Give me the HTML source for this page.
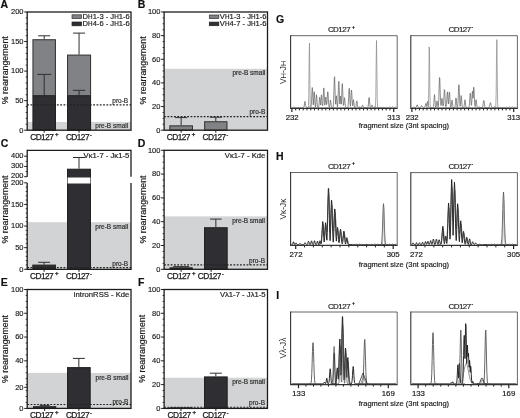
<!DOCTYPE html>
<html lang="en">
<head>
<meta charset="utf-8">
<title>Figure</title>
<style>
html,body{margin:0;padding:0;background:#ffffff;}
body{width:520px;height:418px;overflow:hidden;}
svg{display:block;font-family:"Liberation Sans",sans-serif;}
</style>
</head>
<body>
<svg width="520" height="418" viewBox="0 0 520 418">
<rect x="0" y="0" width="520" height="418" fill="#ffffff"/>
<rect x="27.2" y="121.93" width="103.8" height="8.27" fill="#d1d3d4"/>
<line x1="44.2" y1="35.8" x2="44.2" y2="39.19" stroke="#2f2e32" stroke-width="1.0" />
<line x1="38.2" y1="35.8" x2="50.2" y2="35.8" stroke="#2f2e32" stroke-width="1.0" />
<rect x="32.95" y="39.74" width="22.5" height="55.83" fill="#808285" stroke="#3a3a3a" stroke-width="1.1"/>
<rect x="32.95" y="96.12" width="22.5" height="34.08" fill="#2f2e32" stroke="#222" stroke-width="1.1"/>
<line x1="44.2" y1="74.4" x2="44.2" y2="95.57" stroke="#2f2e32" stroke-width="1.0" />
<line x1="37.2" y1="74.4" x2="51.2" y2="74.4" stroke="#2f2e32" stroke-width="1.0" />
<line x1="44.2" y1="130.2" x2="44.2" y2="132.7" stroke="#1c1c1c" stroke-width="1.0" />
<line x1="79.05" y1="33.1" x2="79.05" y2="54.55" stroke="#2f2e32" stroke-width="1.0" />
<line x1="73.05" y1="33.1" x2="85.05" y2="33.1" stroke="#2f2e32" stroke-width="1.0" />
<rect x="67.55" y="55.1" width="23" height="40.47" fill="#808285" stroke="#3a3a3a" stroke-width="1.1"/>
<rect x="67.55" y="96.12" width="23" height="34.08" fill="#2f2e32" stroke="#222" stroke-width="1.1"/>
<line x1="79.05" y1="90.3" x2="79.05" y2="95.57" stroke="#2f2e32" stroke-width="1.0" />
<line x1="72.85" y1="90.3" x2="85.25" y2="90.3" stroke="#2f2e32" stroke-width="1.0" />
<line x1="79.05" y1="130.2" x2="79.05" y2="132.7" stroke="#1c1c1c" stroke-width="1.0" />
<line x1="27.2" y1="104.8" x2="131" y2="104.8" stroke="#222" stroke-width="1.15" stroke-dasharray="1.8 1.5"/>
<rect x="27.2" y="12" width="103.8" height="118.2" fill="none" stroke="#1c1c1c" stroke-width="1.3"/>
<line x1="24.2" y1="130.2" x2="27.2" y2="130.2" stroke="#1c1c1c" stroke-width="1.0" />
<line x1="25.7" y1="124.29" x2="27.2" y2="124.29" stroke="#1c1c1c" stroke-width="0.9" />
<line x1="25.7" y1="118.38" x2="27.2" y2="118.38" stroke="#1c1c1c" stroke-width="0.9" />
<line x1="25.7" y1="112.47" x2="27.2" y2="112.47" stroke="#1c1c1c" stroke-width="0.9" />
<line x1="25.7" y1="106.56" x2="27.2" y2="106.56" stroke="#1c1c1c" stroke-width="0.9" />
<line x1="24.2" y1="100.65" x2="27.2" y2="100.65" stroke="#1c1c1c" stroke-width="1.0" />
<line x1="25.7" y1="94.74" x2="27.2" y2="94.74" stroke="#1c1c1c" stroke-width="0.9" />
<line x1="25.7" y1="88.83" x2="27.2" y2="88.83" stroke="#1c1c1c" stroke-width="0.9" />
<line x1="25.7" y1="82.92" x2="27.2" y2="82.92" stroke="#1c1c1c" stroke-width="0.9" />
<line x1="25.7" y1="77.01" x2="27.2" y2="77.01" stroke="#1c1c1c" stroke-width="0.9" />
<line x1="24.2" y1="71.1" x2="27.2" y2="71.1" stroke="#1c1c1c" stroke-width="1.0" />
<line x1="25.7" y1="65.19" x2="27.2" y2="65.19" stroke="#1c1c1c" stroke-width="0.9" />
<line x1="25.7" y1="59.28" x2="27.2" y2="59.28" stroke="#1c1c1c" stroke-width="0.9" />
<line x1="25.7" y1="53.37" x2="27.2" y2="53.37" stroke="#1c1c1c" stroke-width="0.9" />
<line x1="25.7" y1="47.46" x2="27.2" y2="47.46" stroke="#1c1c1c" stroke-width="0.9" />
<line x1="24.2" y1="41.55" x2="27.2" y2="41.55" stroke="#1c1c1c" stroke-width="1.0" />
<line x1="25.7" y1="35.64" x2="27.2" y2="35.64" stroke="#1c1c1c" stroke-width="0.9" />
<line x1="25.7" y1="29.73" x2="27.2" y2="29.73" stroke="#1c1c1c" stroke-width="0.9" />
<line x1="25.7" y1="23.82" x2="27.2" y2="23.82" stroke="#1c1c1c" stroke-width="0.9" />
<line x1="25.7" y1="17.91" x2="27.2" y2="17.91" stroke="#1c1c1c" stroke-width="0.9" />
<line x1="24.2" y1="12" x2="27.2" y2="12" stroke="#1c1c1c" stroke-width="1.0" />
<text x="23.5" y="132.5" font-size="7.5" text-anchor="end" fill="#1a1a1a" font-weight="normal" stroke="#1a1a1a" stroke-width="0.15">0</text>
<text x="23.5" y="102.95" font-size="7.5" text-anchor="end" fill="#1a1a1a" font-weight="normal" stroke="#1a1a1a" stroke-width="0.15">50</text>
<text x="23.5" y="73.4" font-size="7.5" text-anchor="end" fill="#1a1a1a" font-weight="normal" stroke="#1a1a1a" stroke-width="0.15">100</text>
<text x="23.5" y="43.85" font-size="7.5" text-anchor="end" fill="#1a1a1a" font-weight="normal" stroke="#1a1a1a" stroke-width="0.15">150</text>
<text x="23.5" y="14.3" font-size="7.5" text-anchor="end" fill="#1a1a1a" font-weight="normal" stroke="#1a1a1a" stroke-width="0.15">200</text>
<text transform="translate(8,70.2) rotate(-90)" font-size="8.8" text-anchor="middle" fill="#1a1a1a" stroke="#1a1a1a" stroke-width="0.18">% rearrangement</text>
<text x="0.5" y="8.4" font-size="10.5" text-anchor="start" fill="#111" font-weight="bold" stroke="#111" stroke-width="0.18" >A</text>
<text x="30.2" y="140.1" font-size="8.3" fill="#1a1a1a" stroke="#1a1a1a" stroke-width="0.25"><tspan letter-spacing="-0.55">CD127</tspan><tspan dx="1.8" dy="-3.7" font-size="6" font-weight="bold">+</tspan></text>
<text x="65.9" y="140.1" font-size="8.3" fill="#1a1a1a" stroke="#1a1a1a" stroke-width="0.25"><tspan letter-spacing="-0.55">CD127</tspan><tspan dx="1" dy="-3" font-size="5" font-weight="bold">-</tspan></text>
<text x="128.2" y="102.9" font-size="6.5" text-anchor="end" fill="#2c2c2c" font-weight="normal" stroke="#2c2c2c" stroke-width="0.18" >pro-B</text>
<text x="128.2" y="128.3" font-size="6.5" text-anchor="end" fill="#2c2c2c" font-weight="normal" stroke="#2c2c2c" stroke-width="0.18" >pre-B small</text>
<rect x="72" y="14.8" width="9.5" height="3.8" fill="#808285" stroke="#333" stroke-width="0.7"/>
<rect x="72" y="22" width="9.5" height="3.8" fill="#2f2e32" stroke="#222" stroke-width="0.7"/>
<text x="82.6" y="19.3" font-size="7.6" text-anchor="start" fill="#1a1a1a" font-weight="normal" stroke="#1a1a1a" stroke-width="0.18" >D<tspan font-size="6.3">H</tspan>1-3 - J<tspan font-size="6.3">H</tspan>1-6</text>
<text x="82.6" y="26.3" font-size="7.6" text-anchor="start" fill="#1a1a1a" font-weight="normal" stroke="#1a1a1a" stroke-width="0.18" >D<tspan font-size="6.3">H</tspan>4-6 - J<tspan font-size="6.3">H</tspan>1-6</text>
<rect x="164.1" y="68.8" width="103.4" height="61.4" fill="#d1d3d4"/>
<line x1="181.15" y1="117.6" x2="181.15" y2="125.3" stroke="#2f2e32" stroke-width="1.0" />
<line x1="175.15" y1="117.6" x2="187.15" y2="117.6" stroke="#2f2e32" stroke-width="1.0" />
<rect x="169.85" y="125.85" width="22.6" height="4.35" fill="#808285" stroke="#3a3a3a" stroke-width="1.1"/>
<line x1="181.15" y1="130.2" x2="181.15" y2="132.7" stroke="#1c1c1c" stroke-width="1.0" />
<line x1="215.8" y1="117.2" x2="215.8" y2="121.2" stroke="#2f2e32" stroke-width="1.0" />
<line x1="209.8" y1="117.2" x2="221.8" y2="117.2" stroke="#2f2e32" stroke-width="1.0" />
<rect x="204.65" y="121.75" width="22.3" height="8.45" fill="#808285" stroke="#3a3a3a" stroke-width="1.1"/>
<line x1="215.8" y1="130.2" x2="215.8" y2="132.7" stroke="#1c1c1c" stroke-width="1.0" />
<line x1="164.1" y1="116.6" x2="267.5" y2="116.6" stroke="#222" stroke-width="1.15" stroke-dasharray="1.8 1.5"/>
<rect x="164.1" y="12" width="103.4" height="118.2" fill="none" stroke="#1c1c1c" stroke-width="1.3"/>
<line x1="161.1" y1="130.2" x2="164.1" y2="130.2" stroke="#1c1c1c" stroke-width="1.0" />
<line x1="162.6" y1="124.29" x2="164.1" y2="124.29" stroke="#1c1c1c" stroke-width="0.9" />
<line x1="162.6" y1="118.38" x2="164.1" y2="118.38" stroke="#1c1c1c" stroke-width="0.9" />
<line x1="162.6" y1="112.47" x2="164.1" y2="112.47" stroke="#1c1c1c" stroke-width="0.9" />
<line x1="161.1" y1="106.56" x2="164.1" y2="106.56" stroke="#1c1c1c" stroke-width="1.0" />
<line x1="162.6" y1="100.65" x2="164.1" y2="100.65" stroke="#1c1c1c" stroke-width="0.9" />
<line x1="162.6" y1="94.74" x2="164.1" y2="94.74" stroke="#1c1c1c" stroke-width="0.9" />
<line x1="162.6" y1="88.83" x2="164.1" y2="88.83" stroke="#1c1c1c" stroke-width="0.9" />
<line x1="161.1" y1="82.92" x2="164.1" y2="82.92" stroke="#1c1c1c" stroke-width="1.0" />
<line x1="162.6" y1="77.01" x2="164.1" y2="77.01" stroke="#1c1c1c" stroke-width="0.9" />
<line x1="162.6" y1="71.1" x2="164.1" y2="71.1" stroke="#1c1c1c" stroke-width="0.9" />
<line x1="162.6" y1="65.19" x2="164.1" y2="65.19" stroke="#1c1c1c" stroke-width="0.9" />
<line x1="161.1" y1="59.28" x2="164.1" y2="59.28" stroke="#1c1c1c" stroke-width="1.0" />
<line x1="162.6" y1="53.37" x2="164.1" y2="53.37" stroke="#1c1c1c" stroke-width="0.9" />
<line x1="162.6" y1="47.46" x2="164.1" y2="47.46" stroke="#1c1c1c" stroke-width="0.9" />
<line x1="162.6" y1="41.55" x2="164.1" y2="41.55" stroke="#1c1c1c" stroke-width="0.9" />
<line x1="161.1" y1="35.64" x2="164.1" y2="35.64" stroke="#1c1c1c" stroke-width="1.0" />
<line x1="162.6" y1="29.73" x2="164.1" y2="29.73" stroke="#1c1c1c" stroke-width="0.9" />
<line x1="162.6" y1="23.82" x2="164.1" y2="23.82" stroke="#1c1c1c" stroke-width="0.9" />
<line x1="162.6" y1="17.91" x2="164.1" y2="17.91" stroke="#1c1c1c" stroke-width="0.9" />
<line x1="161.1" y1="12" x2="164.1" y2="12" stroke="#1c1c1c" stroke-width="1.0" />
<text x="160.4" y="132.5" font-size="7.5" text-anchor="end" fill="#1a1a1a" font-weight="normal" stroke="#1a1a1a" stroke-width="0.15">0</text>
<text x="160.4" y="108.86" font-size="7.5" text-anchor="end" fill="#1a1a1a" font-weight="normal" stroke="#1a1a1a" stroke-width="0.15">20</text>
<text x="160.4" y="85.22" font-size="7.5" text-anchor="end" fill="#1a1a1a" font-weight="normal" stroke="#1a1a1a" stroke-width="0.15">40</text>
<text x="160.4" y="61.58" font-size="7.5" text-anchor="end" fill="#1a1a1a" font-weight="normal" stroke="#1a1a1a" stroke-width="0.15">60</text>
<text x="160.4" y="37.94" font-size="7.5" text-anchor="end" fill="#1a1a1a" font-weight="normal" stroke="#1a1a1a" stroke-width="0.15">80</text>
<text x="160.4" y="14.3" font-size="7.5" text-anchor="end" fill="#1a1a1a" font-weight="normal" stroke="#1a1a1a" stroke-width="0.15">100</text>
<text transform="translate(145.5,70.4) rotate(-90)" font-size="8.8" text-anchor="middle" fill="#1a1a1a" stroke="#1a1a1a" stroke-width="0.18">% rearrangement</text>
<text x="137.7" y="7.8" font-size="10.5" text-anchor="start" fill="#111" font-weight="bold" stroke="#111" stroke-width="0.18" >B</text>
<text x="166.8" y="140.1" font-size="8.3" fill="#1a1a1a" stroke="#1a1a1a" stroke-width="0.25"><tspan letter-spacing="-0.55">CD127</tspan><tspan dx="1.8" dy="-3.7" font-size="6" font-weight="bold">+</tspan></text>
<text x="202.5" y="140.1" font-size="8.3" fill="#1a1a1a" stroke="#1a1a1a" stroke-width="0.25"><tspan letter-spacing="-0.55">CD127</tspan><tspan dx="1" dy="-3" font-size="5" font-weight="bold">-</tspan></text>
<text x="265.3" y="75.3" font-size="6.5" text-anchor="end" fill="#2c2c2c" font-weight="normal" stroke="#2c2c2c" stroke-width="0.18" >pre-B small</text>
<text x="265.3" y="114.4" font-size="6.5" text-anchor="end" fill="#2c2c2c" font-weight="normal" stroke="#2c2c2c" stroke-width="0.18" >pro-B</text>
<rect x="209.3" y="15" width="9.5" height="3.6" fill="#808285" stroke="#333" stroke-width="0.7"/>
<rect x="209.3" y="22.1" width="9.5" height="3.6" fill="#2f2e32" stroke="#222" stroke-width="0.7"/>
<text x="219.8" y="19.3" font-size="7.6" text-anchor="start" fill="#1a1a1a" font-weight="normal" stroke="#1a1a1a" stroke-width="0.18" >V<tspan font-size="6.3">H</tspan>1-3 - J<tspan font-size="6.3">H</tspan>1-6</text>
<text x="219.8" y="26.3" font-size="7.6" text-anchor="start" fill="#1a1a1a" font-weight="normal" stroke="#1a1a1a" stroke-width="0.18" >V<tspan font-size="6.3">H</tspan>4-7 - J<tspan font-size="6.3">H</tspan>1-6</text>
<rect x="27.2" y="222.2" width="103.8" height="47.1" fill="#d1d3d4"/>
<line x1="44.1" y1="262.3" x2="44.1" y2="264.6" stroke="#2f2e32" stroke-width="1.0" />
<line x1="38.1" y1="262.3" x2="50.1" y2="262.3" stroke="#2f2e32" stroke-width="1.0" />
<rect x="32.85" y="265.15" width="22.5" height="4.15" fill="#2f2e32" stroke="#222" stroke-width="1.1"/>
<line x1="44.1" y1="269.3" x2="44.1" y2="271.8" stroke="#1c1c1c" stroke-width="1.0" />
<line x1="79" y1="157.5" x2="79" y2="168.7" stroke="#2f2e32" stroke-width="1.0" />
<line x1="73" y1="157.5" x2="85" y2="157.5" stroke="#2f2e32" stroke-width="1.0" />
<rect x="67.55" y="169.25" width="22.9" height="100.05" fill="#2f2e32" stroke="#222" stroke-width="1.1"/>
<rect x="67.6" y="177.5" width="22.8" height="6" fill="#ffffff"/>
<line x1="79" y1="269.3" x2="79" y2="271.8" stroke="#1c1c1c" stroke-width="1.0" />
<line x1="27.2" y1="267.6" x2="131" y2="267.6" stroke="#222" stroke-width="1.15" stroke-dasharray="1.8 1.5"/>
<line x1="27.2" y1="150.3" x2="131" y2="150.3" stroke="#1c1c1c" stroke-width="1.3" />
<line x1="26.55" y1="269.3" x2="131.65" y2="269.3" stroke="#1c1c1c" stroke-width="1.3" />
<line x1="27.2" y1="149.65" x2="27.2" y2="176.7" stroke="#1c1c1c" stroke-width="1.3" />
<line x1="27.2" y1="183" x2="27.2" y2="269.3" stroke="#1c1c1c" stroke-width="1.3" />
<line x1="131" y1="149.65" x2="131" y2="176.7" stroke="#1c1c1c" stroke-width="1.3" />
<line x1="131" y1="183" x2="131" y2="269.3" stroke="#1c1c1c" stroke-width="1.3" />
<line x1="24.2" y1="269.3" x2="27.2" y2="269.3" stroke="#1c1c1c" stroke-width="1.0" />
<line x1="25.7" y1="264.98" x2="27.2" y2="264.98" stroke="#1c1c1c" stroke-width="0.9" />
<line x1="25.7" y1="260.65" x2="27.2" y2="260.65" stroke="#1c1c1c" stroke-width="0.9" />
<line x1="25.7" y1="256.32" x2="27.2" y2="256.32" stroke="#1c1c1c" stroke-width="0.9" />
<line x1="25.7" y1="252" x2="27.2" y2="252" stroke="#1c1c1c" stroke-width="0.9" />
<line x1="24.2" y1="247.68" x2="27.2" y2="247.68" stroke="#1c1c1c" stroke-width="1.0" />
<line x1="25.7" y1="243.35" x2="27.2" y2="243.35" stroke="#1c1c1c" stroke-width="0.9" />
<line x1="25.7" y1="239.03" x2="27.2" y2="239.03" stroke="#1c1c1c" stroke-width="0.9" />
<line x1="25.7" y1="234.7" x2="27.2" y2="234.7" stroke="#1c1c1c" stroke-width="0.9" />
<line x1="25.7" y1="230.38" x2="27.2" y2="230.38" stroke="#1c1c1c" stroke-width="0.9" />
<line x1="24.2" y1="226.05" x2="27.2" y2="226.05" stroke="#1c1c1c" stroke-width="1.0" />
<line x1="25.7" y1="221.73" x2="27.2" y2="221.73" stroke="#1c1c1c" stroke-width="0.9" />
<line x1="25.7" y1="217.4" x2="27.2" y2="217.4" stroke="#1c1c1c" stroke-width="0.9" />
<line x1="25.7" y1="213.08" x2="27.2" y2="213.08" stroke="#1c1c1c" stroke-width="0.9" />
<line x1="25.7" y1="208.75" x2="27.2" y2="208.75" stroke="#1c1c1c" stroke-width="0.9" />
<line x1="24.2" y1="204.43" x2="27.2" y2="204.43" stroke="#1c1c1c" stroke-width="1.0" />
<line x1="25.7" y1="200.1" x2="27.2" y2="200.1" stroke="#1c1c1c" stroke-width="0.9" />
<line x1="25.7" y1="195.78" x2="27.2" y2="195.78" stroke="#1c1c1c" stroke-width="0.9" />
<line x1="25.7" y1="191.45" x2="27.2" y2="191.45" stroke="#1c1c1c" stroke-width="0.9" />
<line x1="25.7" y1="187.12" x2="27.2" y2="187.12" stroke="#1c1c1c" stroke-width="0.9" />
<line x1="24.2" y1="182.8" x2="27.2" y2="182.8" stroke="#1c1c1c" stroke-width="1.0" />
<text x="23.5" y="271.6" font-size="7.5" text-anchor="end" fill="#1a1a1a" font-weight="normal" stroke="#1a1a1a" stroke-width="0.15">0</text>
<text x="23.5" y="249.98" font-size="7.5" text-anchor="end" fill="#1a1a1a" font-weight="normal" stroke="#1a1a1a" stroke-width="0.15">50</text>
<text x="23.5" y="228.35" font-size="7.5" text-anchor="end" fill="#1a1a1a" font-weight="normal" stroke="#1a1a1a" stroke-width="0.15">100</text>
<text x="23.5" y="206.73" font-size="7.5" text-anchor="end" fill="#1a1a1a" font-weight="normal" stroke="#1a1a1a" stroke-width="0.15">150</text>
<text x="23.5" y="185.1" font-size="7.5" text-anchor="end" fill="#1a1a1a" font-weight="normal" stroke="#1a1a1a" stroke-width="0.15">200</text>
<line x1="24.2" y1="176.7" x2="27.2" y2="176.7" stroke="#1c1c1c" stroke-width="1.0" />
<text x="23.5" y="178.2" font-size="7.5" text-anchor="end" fill="#1a1a1a" font-weight="normal" stroke="#1a1a1a" stroke-width="0.15">200</text>
<line x1="24.2" y1="166.45" x2="27.2" y2="166.45" stroke="#1c1c1c" stroke-width="1.0" />
<text x="23.5" y="168.25" font-size="7.5" text-anchor="end" fill="#1a1a1a" font-weight="normal" stroke="#1a1a1a" stroke-width="0.15">300</text>
<line x1="24.2" y1="156.2" x2="27.2" y2="156.2" stroke="#1c1c1c" stroke-width="1.0" />
<text x="23.5" y="158" font-size="7.5" text-anchor="end" fill="#1a1a1a" font-weight="normal" stroke="#1a1a1a" stroke-width="0.15">400</text>
<line x1="25.7" y1="171.57" x2="27.2" y2="171.57" stroke="#1c1c1c" stroke-width="0.9" />
<line x1="25.7" y1="161.32" x2="27.2" y2="161.32" stroke="#1c1c1c" stroke-width="0.9" />
<text transform="translate(8,209.5) rotate(-90)" font-size="8.8" text-anchor="middle" fill="#1a1a1a" stroke="#1a1a1a" stroke-width="0.18">% rearrangement</text>
<text x="0.8" y="147.2" font-size="10.5" text-anchor="start" fill="#111" font-weight="bold" stroke="#111" stroke-width="0.18" >C</text>
<text x="30.1" y="279" font-size="8.3" fill="#1a1a1a" stroke="#1a1a1a" stroke-width="0.25"><tspan letter-spacing="-0.55">CD127</tspan><tspan dx="1.8" dy="-3.7" font-size="6" font-weight="bold">+</tspan></text>
<text x="66" y="279" font-size="8.3" fill="#1a1a1a" stroke="#1a1a1a" stroke-width="0.25"><tspan letter-spacing="-0.55">CD127</tspan><tspan dx="1" dy="-3" font-size="5" font-weight="bold">-</tspan></text>
<text x="128.2" y="228.6" font-size="6.5" text-anchor="end" fill="#2c2c2c" font-weight="normal" stroke="#2c2c2c" stroke-width="0.18" >pre-B small</text>
<text x="128.2" y="265.8" font-size="6.5" text-anchor="end" fill="#2c2c2c" font-weight="normal" stroke="#2c2c2c" stroke-width="0.18" >pro-B</text>
<text x="129.3" y="158" font-size="7.7" text-anchor="end" fill="#1a1a1a" font-weight="normal" stroke="#1a1a1a" stroke-width="0.18" >Vκ1-7 - Jκ1-5</text>
<rect x="164.1" y="216.4" width="103.4" height="52.9" fill="#d1d3d4"/>
<line x1="181.15" y1="266.6" x2="181.15" y2="267.3" stroke="#2f2e32" stroke-width="1.0" />
<line x1="173.15" y1="266.6" x2="189.15" y2="266.6" stroke="#2f2e32" stroke-width="1.0" />
<rect x="170.05" y="267.85" width="22.2" height="1.45" fill="#2f2e32" stroke="#222" stroke-width="1.1"/>
<line x1="181.15" y1="269.3" x2="181.15" y2="271.8" stroke="#1c1c1c" stroke-width="1.0" />
<line x1="215.85" y1="219.1" x2="215.85" y2="227.2" stroke="#2f2e32" stroke-width="1.0" />
<line x1="210.05" y1="219.1" x2="221.65" y2="219.1" stroke="#2f2e32" stroke-width="1.0" />
<rect x="204.55" y="227.75" width="22.6" height="41.55" fill="#2f2e32" stroke="#222" stroke-width="1.1"/>
<line x1="211.1" y1="269.3" x2="211.1" y2="271.8" stroke="#1c1c1c" stroke-width="1.0" />
<line x1="164.1" y1="264.8" x2="267.5" y2="264.8" stroke="#222" stroke-width="1.15" stroke-dasharray="1.8 1.5"/>
<rect x="164.1" y="150.3" width="103.4" height="119" fill="none" stroke="#1c1c1c" stroke-width="1.3"/>
<line x1="161.1" y1="269.3" x2="164.1" y2="269.3" stroke="#1c1c1c" stroke-width="1.0" />
<line x1="162.6" y1="263.35" x2="164.1" y2="263.35" stroke="#1c1c1c" stroke-width="0.9" />
<line x1="162.6" y1="257.4" x2="164.1" y2="257.4" stroke="#1c1c1c" stroke-width="0.9" />
<line x1="162.6" y1="251.45" x2="164.1" y2="251.45" stroke="#1c1c1c" stroke-width="0.9" />
<line x1="161.1" y1="245.5" x2="164.1" y2="245.5" stroke="#1c1c1c" stroke-width="1.0" />
<line x1="162.6" y1="239.55" x2="164.1" y2="239.55" stroke="#1c1c1c" stroke-width="0.9" />
<line x1="162.6" y1="233.6" x2="164.1" y2="233.6" stroke="#1c1c1c" stroke-width="0.9" />
<line x1="162.6" y1="227.65" x2="164.1" y2="227.65" stroke="#1c1c1c" stroke-width="0.9" />
<line x1="161.1" y1="221.7" x2="164.1" y2="221.7" stroke="#1c1c1c" stroke-width="1.0" />
<line x1="162.6" y1="215.75" x2="164.1" y2="215.75" stroke="#1c1c1c" stroke-width="0.9" />
<line x1="162.6" y1="209.8" x2="164.1" y2="209.8" stroke="#1c1c1c" stroke-width="0.9" />
<line x1="162.6" y1="203.85" x2="164.1" y2="203.85" stroke="#1c1c1c" stroke-width="0.9" />
<line x1="161.1" y1="197.9" x2="164.1" y2="197.9" stroke="#1c1c1c" stroke-width="1.0" />
<line x1="162.6" y1="191.95" x2="164.1" y2="191.95" stroke="#1c1c1c" stroke-width="0.9" />
<line x1="162.6" y1="186" x2="164.1" y2="186" stroke="#1c1c1c" stroke-width="0.9" />
<line x1="162.6" y1="180.05" x2="164.1" y2="180.05" stroke="#1c1c1c" stroke-width="0.9" />
<line x1="161.1" y1="174.1" x2="164.1" y2="174.1" stroke="#1c1c1c" stroke-width="1.0" />
<line x1="162.6" y1="168.15" x2="164.1" y2="168.15" stroke="#1c1c1c" stroke-width="0.9" />
<line x1="162.6" y1="162.2" x2="164.1" y2="162.2" stroke="#1c1c1c" stroke-width="0.9" />
<line x1="162.6" y1="156.25" x2="164.1" y2="156.25" stroke="#1c1c1c" stroke-width="0.9" />
<line x1="161.1" y1="150.3" x2="164.1" y2="150.3" stroke="#1c1c1c" stroke-width="1.0" />
<text x="160.4" y="271.6" font-size="7.5" text-anchor="end" fill="#1a1a1a" font-weight="normal" stroke="#1a1a1a" stroke-width="0.15">0</text>
<text x="160.4" y="247.8" font-size="7.5" text-anchor="end" fill="#1a1a1a" font-weight="normal" stroke="#1a1a1a" stroke-width="0.15">20</text>
<text x="160.4" y="224" font-size="7.5" text-anchor="end" fill="#1a1a1a" font-weight="normal" stroke="#1a1a1a" stroke-width="0.15">40</text>
<text x="160.4" y="200.2" font-size="7.5" text-anchor="end" fill="#1a1a1a" font-weight="normal" stroke="#1a1a1a" stroke-width="0.15">60</text>
<text x="160.4" y="176.4" font-size="7.5" text-anchor="end" fill="#1a1a1a" font-weight="normal" stroke="#1a1a1a" stroke-width="0.15">80</text>
<text x="160.4" y="152.6" font-size="7.5" text-anchor="end" fill="#1a1a1a" font-weight="normal" stroke="#1a1a1a" stroke-width="0.15">100</text>
<text transform="translate(145.5,209.5) rotate(-90)" font-size="8.8" text-anchor="middle" fill="#1a1a1a" stroke="#1a1a1a" stroke-width="0.18">% rearrangement</text>
<text x="137.8" y="147" font-size="10.5" text-anchor="start" fill="#111" font-weight="bold" stroke="#111" stroke-width="0.18" >D</text>
<text x="167.1" y="279" font-size="8.3" fill="#1a1a1a" stroke="#1a1a1a" stroke-width="0.25"><tspan letter-spacing="-0.55">CD127</tspan><tspan dx="1.8" dy="-3.7" font-size="6" font-weight="bold">+</tspan></text>
<text x="197.8" y="279" font-size="8.3" fill="#1a1a1a" stroke="#1a1a1a" stroke-width="0.25"><tspan letter-spacing="-0.55">CD127</tspan><tspan dx="1" dy="-3" font-size="5" font-weight="bold">-</tspan></text>
<text x="265" y="222.6" font-size="6.5" text-anchor="end" fill="#2c2c2c" font-weight="normal" stroke="#2c2c2c" stroke-width="0.18" >pre-B small</text>
<text x="265" y="263.2" font-size="6.5" text-anchor="end" fill="#2c2c2c" font-weight="normal" stroke="#2c2c2c" stroke-width="0.18" >pro-B</text>
<text x="265.4" y="158" font-size="7.7" text-anchor="end" fill="#1a1a1a" font-weight="normal" stroke="#1a1a1a" stroke-width="0.18" >Vκ1-7 - Kde</text>
<rect x="27.2" y="372.9" width="103.8" height="35.5" fill="#d1d3d4"/>
<line x1="44.65" y1="405.4" x2="44.65" y2="406.2" stroke="#2f2e32" stroke-width="1.0" />
<line x1="39.65" y1="405.4" x2="49.65" y2="405.4" stroke="#2f2e32" stroke-width="1.0" />
<rect x="33.55" y="406.75" width="22.2" height="1.65" fill="#2f2e32" stroke="#222" stroke-width="1.1"/>
<line x1="44.65" y1="408.4" x2="44.65" y2="410.9" stroke="#1c1c1c" stroke-width="1.0" />
<line x1="78.85" y1="358.4" x2="78.85" y2="367.1" stroke="#2f2e32" stroke-width="1.0" />
<line x1="72.85" y1="358.4" x2="84.85" y2="358.4" stroke="#2f2e32" stroke-width="1.0" />
<rect x="67.55" y="367.65" width="22.6" height="40.75" fill="#2f2e32" stroke="#222" stroke-width="1.1"/>
<line x1="78.85" y1="408.4" x2="78.85" y2="410.9" stroke="#1c1c1c" stroke-width="1.0" />
<line x1="27.2" y1="404.5" x2="131" y2="404.5" stroke="#222" stroke-width="1.15" stroke-dasharray="1.8 1.5"/>
<rect x="27.2" y="289.5" width="103.8" height="118.9" fill="none" stroke="#1c1c1c" stroke-width="1.3"/>
<line x1="24.2" y1="408.4" x2="27.2" y2="408.4" stroke="#1c1c1c" stroke-width="1.0" />
<line x1="25.7" y1="402.45" x2="27.2" y2="402.45" stroke="#1c1c1c" stroke-width="0.9" />
<line x1="25.7" y1="396.51" x2="27.2" y2="396.51" stroke="#1c1c1c" stroke-width="0.9" />
<line x1="25.7" y1="390.56" x2="27.2" y2="390.56" stroke="#1c1c1c" stroke-width="0.9" />
<line x1="25.7" y1="384.62" x2="27.2" y2="384.62" stroke="#1c1c1c" stroke-width="0.9" />
<line x1="25.7" y1="378.67" x2="27.2" y2="378.67" stroke="#1c1c1c" stroke-width="0.9" />
<line x1="25.7" y1="372.73" x2="27.2" y2="372.73" stroke="#1c1c1c" stroke-width="0.9" />
<line x1="25.7" y1="366.78" x2="27.2" y2="366.78" stroke="#1c1c1c" stroke-width="0.9" />
<line x1="24.2" y1="360.84" x2="27.2" y2="360.84" stroke="#1c1c1c" stroke-width="1.0" />
<line x1="25.7" y1="354.89" x2="27.2" y2="354.89" stroke="#1c1c1c" stroke-width="0.9" />
<line x1="25.7" y1="348.95" x2="27.2" y2="348.95" stroke="#1c1c1c" stroke-width="0.9" />
<line x1="25.7" y1="343" x2="27.2" y2="343" stroke="#1c1c1c" stroke-width="0.9" />
<line x1="24.2" y1="337.06" x2="27.2" y2="337.06" stroke="#1c1c1c" stroke-width="1.0" />
<line x1="25.7" y1="331.12" x2="27.2" y2="331.12" stroke="#1c1c1c" stroke-width="0.9" />
<line x1="25.7" y1="325.17" x2="27.2" y2="325.17" stroke="#1c1c1c" stroke-width="0.9" />
<line x1="25.7" y1="319.23" x2="27.2" y2="319.23" stroke="#1c1c1c" stroke-width="0.9" />
<line x1="24.2" y1="313.28" x2="27.2" y2="313.28" stroke="#1c1c1c" stroke-width="1.0" />
<line x1="25.7" y1="307.33" x2="27.2" y2="307.33" stroke="#1c1c1c" stroke-width="0.9" />
<line x1="25.7" y1="301.39" x2="27.2" y2="301.39" stroke="#1c1c1c" stroke-width="0.9" />
<line x1="25.7" y1="295.44" x2="27.2" y2="295.44" stroke="#1c1c1c" stroke-width="0.9" />
<line x1="24.2" y1="289.5" x2="27.2" y2="289.5" stroke="#1c1c1c" stroke-width="1.0" />
<text x="23.5" y="410.7" font-size="7.5" text-anchor="end" fill="#1a1a1a" font-weight="normal" stroke="#1a1a1a" stroke-width="0.15">0</text>
<text x="23.5" y="363.14" font-size="7.5" text-anchor="end" fill="#1a1a1a" font-weight="normal" stroke="#1a1a1a" stroke-width="0.15">40</text>
<text x="23.5" y="339.36" font-size="7.5" text-anchor="end" fill="#1a1a1a" font-weight="normal" stroke="#1a1a1a" stroke-width="0.15">60</text>
<text x="23.5" y="315.58" font-size="7.5" text-anchor="end" fill="#1a1a1a" font-weight="normal" stroke="#1a1a1a" stroke-width="0.15">80</text>
<text x="23.5" y="291.8" font-size="7.5" text-anchor="end" fill="#1a1a1a" font-weight="normal" stroke="#1a1a1a" stroke-width="0.15">100</text>
<line x1="24.2" y1="387.3" x2="27.2" y2="387.3" stroke="#1c1c1c" stroke-width="1.0" />
<text x="23.5" y="389.6" font-size="7.5" text-anchor="end" fill="#1a1a1a" font-weight="normal" stroke="#1a1a1a" stroke-width="0.15">20</text>
<text transform="translate(8,349) rotate(-90)" font-size="8.8" text-anchor="middle" fill="#1a1a1a" stroke="#1a1a1a" stroke-width="0.18">% rearrangement</text>
<text x="0.8" y="286.2" font-size="10.5" text-anchor="start" fill="#111" font-weight="bold" stroke="#111" stroke-width="0.18" >E</text>
<text x="30" y="418.1" font-size="8.3" fill="#1a1a1a" stroke="#1a1a1a" stroke-width="0.25"><tspan letter-spacing="-0.55">CD127</tspan><tspan dx="1.8" dy="-3.7" font-size="6" font-weight="bold">+</tspan></text>
<text x="65.9" y="418.1" font-size="8.3" fill="#1a1a1a" stroke="#1a1a1a" stroke-width="0.25"><tspan letter-spacing="-0.55">CD127</tspan><tspan dx="1" dy="-3" font-size="5" font-weight="bold">-</tspan></text>
<text x="128.4" y="380.3" font-size="6.5" text-anchor="end" fill="#2c2c2c" font-weight="normal" stroke="#2c2c2c" stroke-width="0.18" >pre-B small</text>
<text x="128.4" y="403.6" font-size="6.5" text-anchor="end" fill="#2c2c2c" font-weight="normal" stroke="#2c2c2c" stroke-width="0.18" >pro-B</text>
<text x="129.4" y="297" font-size="7.7" text-anchor="end" fill="#1a1a1a" font-weight="normal" stroke="#1a1a1a" stroke-width="0.18" >intronRSS - Kde</text>
<rect x="164.1" y="377.7" width="103.4" height="30.7" fill="#d1d3d4"/>
<rect x="169.8" y="407.7" width="22.4" height="0.7" fill="#2f2e32" stroke="#222" stroke-width="0.6"/>
<line x1="181" y1="408.4" x2="181" y2="410.9" stroke="#1c1c1c" stroke-width="1.0" />
<line x1="215.85" y1="373.2" x2="215.85" y2="376.4" stroke="#2f2e32" stroke-width="1.0" />
<line x1="209.85" y1="373.2" x2="221.85" y2="373.2" stroke="#2f2e32" stroke-width="1.0" />
<rect x="204.55" y="376.95" width="22.6" height="31.45" fill="#2f2e32" stroke="#222" stroke-width="1.1"/>
<line x1="215.85" y1="408.4" x2="215.85" y2="410.9" stroke="#1c1c1c" stroke-width="1.0" />
<line x1="164.1" y1="407.2" x2="267.5" y2="407.2" stroke="#222" stroke-width="1.15" stroke-dasharray="1.8 1.5"/>
<rect x="164.1" y="289.5" width="103.4" height="118.9" fill="none" stroke="#1c1c1c" stroke-width="1.3"/>
<line x1="161.1" y1="408.4" x2="164.1" y2="408.4" stroke="#1c1c1c" stroke-width="1.0" />
<line x1="162.6" y1="402.45" x2="164.1" y2="402.45" stroke="#1c1c1c" stroke-width="0.9" />
<line x1="162.6" y1="396.51" x2="164.1" y2="396.51" stroke="#1c1c1c" stroke-width="0.9" />
<line x1="162.6" y1="390.56" x2="164.1" y2="390.56" stroke="#1c1c1c" stroke-width="0.9" />
<line x1="161.1" y1="384.62" x2="164.1" y2="384.62" stroke="#1c1c1c" stroke-width="1.0" />
<line x1="162.6" y1="378.67" x2="164.1" y2="378.67" stroke="#1c1c1c" stroke-width="0.9" />
<line x1="162.6" y1="372.73" x2="164.1" y2="372.73" stroke="#1c1c1c" stroke-width="0.9" />
<line x1="162.6" y1="366.78" x2="164.1" y2="366.78" stroke="#1c1c1c" stroke-width="0.9" />
<line x1="161.1" y1="360.84" x2="164.1" y2="360.84" stroke="#1c1c1c" stroke-width="1.0" />
<line x1="162.6" y1="354.89" x2="164.1" y2="354.89" stroke="#1c1c1c" stroke-width="0.9" />
<line x1="162.6" y1="348.95" x2="164.1" y2="348.95" stroke="#1c1c1c" stroke-width="0.9" />
<line x1="162.6" y1="343" x2="164.1" y2="343" stroke="#1c1c1c" stroke-width="0.9" />
<line x1="161.1" y1="337.06" x2="164.1" y2="337.06" stroke="#1c1c1c" stroke-width="1.0" />
<line x1="162.6" y1="331.12" x2="164.1" y2="331.12" stroke="#1c1c1c" stroke-width="0.9" />
<line x1="162.6" y1="325.17" x2="164.1" y2="325.17" stroke="#1c1c1c" stroke-width="0.9" />
<line x1="162.6" y1="319.23" x2="164.1" y2="319.23" stroke="#1c1c1c" stroke-width="0.9" />
<line x1="161.1" y1="313.28" x2="164.1" y2="313.28" stroke="#1c1c1c" stroke-width="1.0" />
<line x1="162.6" y1="307.33" x2="164.1" y2="307.33" stroke="#1c1c1c" stroke-width="0.9" />
<line x1="162.6" y1="301.39" x2="164.1" y2="301.39" stroke="#1c1c1c" stroke-width="0.9" />
<line x1="162.6" y1="295.44" x2="164.1" y2="295.44" stroke="#1c1c1c" stroke-width="0.9" />
<line x1="161.1" y1="289.5" x2="164.1" y2="289.5" stroke="#1c1c1c" stroke-width="1.0" />
<text x="160.4" y="410.7" font-size="7.5" text-anchor="end" fill="#1a1a1a" font-weight="normal" stroke="#1a1a1a" stroke-width="0.15">0</text>
<text x="160.4" y="386.92" font-size="7.5" text-anchor="end" fill="#1a1a1a" font-weight="normal" stroke="#1a1a1a" stroke-width="0.15">20</text>
<text x="160.4" y="363.14" font-size="7.5" text-anchor="end" fill="#1a1a1a" font-weight="normal" stroke="#1a1a1a" stroke-width="0.15">40</text>
<text x="160.4" y="339.36" font-size="7.5" text-anchor="end" fill="#1a1a1a" font-weight="normal" stroke="#1a1a1a" stroke-width="0.15">60</text>
<text x="160.4" y="315.58" font-size="7.5" text-anchor="end" fill="#1a1a1a" font-weight="normal" stroke="#1a1a1a" stroke-width="0.15">80</text>
<text x="160.4" y="291.8" font-size="7.5" text-anchor="end" fill="#1a1a1a" font-weight="normal" stroke="#1a1a1a" stroke-width="0.15">100</text>
<text transform="translate(145.3,348.8) rotate(-90)" font-size="8.8" text-anchor="middle" fill="#1a1a1a" stroke="#1a1a1a" stroke-width="0.18">% rearrangement</text>
<text x="138" y="286.2" font-size="10.5" text-anchor="start" fill="#111" font-weight="bold" stroke="#111" stroke-width="0.18" >F</text>
<text x="167.5" y="418.1" font-size="8.3" fill="#1a1a1a" stroke="#1a1a1a" stroke-width="0.25"><tspan letter-spacing="-0.55">CD127</tspan><tspan dx="1.8" dy="-3.7" font-size="6" font-weight="bold">+</tspan></text>
<text x="202.6" y="418.1" font-size="8.3" fill="#1a1a1a" stroke="#1a1a1a" stroke-width="0.25"><tspan letter-spacing="-0.55">CD127</tspan><tspan dx="1" dy="-3" font-size="5" font-weight="bold">-</tspan></text>
<text x="265" y="383.8" font-size="6.5" text-anchor="end" fill="#2c2c2c" font-weight="normal" stroke="#2c2c2c" stroke-width="0.18" >pre-B small</text>
<text x="265" y="405.2" font-size="6.5" text-anchor="end" fill="#2c2c2c" font-weight="normal" stroke="#2c2c2c" stroke-width="0.18" >pro-B</text>
<text x="265.6" y="297" font-size="7.7" text-anchor="end" fill="#1a1a1a" font-weight="normal" stroke="#1a1a1a" stroke-width="0.18" >Vλ1-7 - Jλ1-5</text>
<text x="275.9" y="22.5" font-size="10.5" text-anchor="start" fill="#111" font-weight="bold" stroke="#111" stroke-width="0.18" >G</text>
<path d="M291.6 107.17 L291.95 107.48 L292.3 107.68 L292.65 107.67 L293 107.51 L293.35 107.3 L293.7 107.17 L294.05 107.18 L294.4 107.33 L294.75 107.51 L295.1 107.65 L295.45 107.7 L295.8 107.67 L296.15 107.62 L296.5 107.59 L296.85 107.6 L297.2 107.63 L297.55 107.67 L297.9 107.69 L299.3 107.69 L299.65 107.68 L300 107.65 L300.35 107.63 L300.7 107.64 L301.05 107.67 L301.4 107.7 L301.75 107.68 L302.09 107.58 L302.44 107.43 L302.79 107.29 L303.14 107.24 L303.49 107.31 L303.84 107.31 L304.19 106.35 L304.54 103.52 L304.89 101.34 L305.24 102.97 L305.59 105.6 L305.94 106.64 L306.29 106.93 L306.64 107.22 L306.99 107.53 L307.34 107.69 L307.69 107.63 L308.04 107.38 L308.39 107.08 L308.74 106.9 L309.09 106.93 L309.44 107.15 L309.79 107.43 L310.14 107.65 L310.49 107.67 L310.84 107.32 L311.19 105.73 L311.54 101.02 L311.89 93.03 L312.24 87.56 L312.59 90.64 L312.94 98.83 L313.29 104.88 L313.64 100.01 L313.99 92.71 L314.34 91.74 L314.69 98.42 L315.04 104.75 L315.39 107.08 L315.74 104.57 L316.09 99.08 L316.44 94.72 L316.79 97.02 L317.14 102.87 L317.49 106.44 L317.84 107.41 L318.19 107.5 L318.54 107.18 L318.89 105.54 L319.24 101.39 L319.59 97.32 L319.94 98.25 L320.29 102.79 L320.64 105.1 L320.99 100.27 L321.34 94.91 L321.69 95.34 L322.04 101.15 L322.39 105.81 L322.74 105.64 L323.08 100.52 L323.43 92.52 L323.78 87.92 L324.13 91.75 L324.48 99.71 L324.83 105.21 L325.18 103.47 L325.53 98.7 L325.88 96.98 L326.23 100.5 L326.58 104.68 L326.93 103.34 L327.28 97.51 L327.63 91.81 L327.98 92.18 L328.33 98.34 L328.68 104.18 L329.03 106.76 L329.38 107.12 L329.73 105.67 L330.08 102.52 L330.43 99.99 L330.78 101.33 L331.13 104.82 L331.48 106.98 L331.83 107.6 L332.18 107.69 L332.53 107.69 L332.88 107.53 L333.23 106.42 L333.58 101.8 L333.93 90.99 L334.28 78.66 L334.63 76.75 L334.98 87.43 L335.33 99.46 L335.68 104.22 L336.03 99.08 L336.38 95.75 L336.73 98.58 L337.08 103.91 L337.43 106.84 L337.78 104.41 L338.13 96.95 L338.48 86.23 L338.83 81.3 L339.18 87.68 L339.53 98.31 L339.88 104.04 L340.23 98.42 L340.58 96.16 L340.93 100.77 L341.28 104.19 L341.63 97.37 L341.98 87.79 L342.33 83.58 L342.68 89.64 L343.03 99.42 L343.38 105.37 L343.73 105.38 L344.07 101.16 L344.42 97.63 L344.77 99.09 L345.12 103.54 L345.47 106.5 L345.82 107.48 L346.17 107.68 L346.52 107.69 L346.87 107.63 L347.22 107.58 L347.57 107.48 L347.92 106.84 L348.27 104.07 L348.62 97.41 L348.97 89.66 L349.32 88.29 L349.67 94.9 L350.02 102.52 L350.37 106.3 L350.72 102.4 L351.07 95.38 L351.42 90.16 L351.77 92.38 L352.12 99.51 L352.47 105.01 L352.82 105.81 L353.17 102.01 L353.52 99.66 L353.87 102.24 L354.22 105.77 L354.57 107.22 L354.92 107.59 L355.27 107.68 L355.62 107.42 L355.97 106.25 L356.32 103.58 L356.67 100.94 L357.02 101.38 L357.37 104.31 L357.72 106.64 L358.07 107.53 L358.42 107.67 L358.77 107.5 L359.12 107.19 L359.47 106.94 L359.82 106.88 L360.17 107.04 L360.52 107.32 L360.87 107.57 L361.22 107.62 L361.57 107.26 L361.92 106.38 L362.27 105.38 L362.62 105.16 L362.97 105.93 L363.32 106.9 L363.67 107.47 L364.02 107.66 L364.37 107.7 L364.72 107.68 L365.06 107.66 L365.41 107.66 L365.76 107.68 L366.11 107.69 L367.16 107.7 L367.51 107.68 L367.86 107.44 L368.21 106.11 L368.56 102.34 L368.91 97.74 L369.26 97.53 L369.61 102.01 L369.96 105.97 L370.31 107.41 L370.66 107.57 L371.01 107.15 L371.36 106.28 L371.71 105.25 L372.06 104.94 L372.41 105.72 L372.76 106.83 L373.11 107.5 L373.46 107.63 L373.81 107.44 L374.16 107.12 L374.51 106.87 L374.86 106.81 L375.21 107 L375.56 107.31 L375.91 107.6 L376.26 107.7 L376.61 107.58 L376.96 107.33 L377.31 107.08 L377.66 106.99 L378.01 107.08 L378.36 107.31 L378.71 107.55 L379.06 107.68 L379.41 107.69 L379.76 107.59 L380.11 107.49 L380.46 107.45 L380.81 107.48 L381.16 107.56 L381.51 107.64 L381.86 107.69 L385.36 107.7 L385.71 107.67 L386.05 107.6 L386.4 107.5 L386.75 107.43 L387.1 107.43 L387.45 107.51 L387.8 107.62 L388.15 107.7 L388.5 107.65 L388.85 107.46 L389.2 107.21 L389.55 107.01 L389.9 106.97 L390.25 107.14 L390.6 107.41 L390.95 107.64 L391.3 107.69 L391.65 107.52 L392 107.2 L392.35 106.92 L392.7 106.81 L393.05 106.94 L393.4 107.23 L393.75 107.53 L394.1 107.69 L394.45 107.65 L394.8 107.45 L395.15 107.24 L395.5 107.13 L395.85 107.18 L396.2 107.35" stroke="#5c5c5c" stroke-width="0.7" fill="none" stroke-linejoin="round" />
<path d="M306 107.7 L307.75 107.7 L308.09 107.67 L308.44 106.69 L308.79 95.36 L309.14 58.25 L309.49 42.98 L309.84 80.03 L310.19 103.84 L310.54 107.52 L310.89 107.7 L374.76 107.7 L375.11 107.66 L375.46 106.65 L375.81 96.92 L376.16 64.64 L376.51 40.52 L376.86 66.77 L377.21 97.96 L377.56 106.79 L377.91 107.67 L378.25 107.7 L380 107.7" stroke="#8c8c8c" stroke-width="0.75" fill="none" stroke-linejoin="round" />
<path d="M290.6 35.7 L397.2 35.7 L397.2 108.4" stroke="#555" stroke-width="0.9" fill="none"/>
<path d="M290.6 35.3 L290.6 108.4 L397.6 108.4" stroke="#333" stroke-width="1.1" fill="none"/>
<line x1="291.9" y1="108.4" x2="291.9" y2="112" stroke="#222" stroke-width="1.2" />
<line x1="295.67" y1="108.4" x2="295.67" y2="110.4" stroke="#222" stroke-width="1.0" />
<line x1="299.44" y1="108.4" x2="299.44" y2="110.4" stroke="#222" stroke-width="1.0" />
<line x1="303.21" y1="108.4" x2="303.21" y2="110.4" stroke="#222" stroke-width="1.0" />
<line x1="306.98" y1="108.4" x2="306.98" y2="110.4" stroke="#222" stroke-width="1.0" />
<line x1="310.75" y1="108.4" x2="310.75" y2="110.4" stroke="#222" stroke-width="1.0" />
<line x1="314.52" y1="108.4" x2="314.52" y2="110.4" stroke="#222" stroke-width="1.0" />
<line x1="318.29" y1="108.4" x2="318.29" y2="110.4" stroke="#222" stroke-width="1.0" />
<line x1="322.06" y1="108.4" x2="322.06" y2="110.4" stroke="#222" stroke-width="1.0" />
<line x1="325.83" y1="108.4" x2="325.83" y2="110.4" stroke="#222" stroke-width="1.0" />
<line x1="329.6" y1="108.4" x2="329.6" y2="110.4" stroke="#222" stroke-width="1.0" />
<line x1="333.37" y1="108.4" x2="333.37" y2="110.4" stroke="#222" stroke-width="1.0" />
<line x1="337.14" y1="108.4" x2="337.14" y2="110.4" stroke="#222" stroke-width="1.0" />
<line x1="340.91" y1="108.4" x2="340.91" y2="110.4" stroke="#222" stroke-width="1.0" />
<line x1="344.69" y1="108.4" x2="344.69" y2="110.4" stroke="#222" stroke-width="1.0" />
<line x1="348.46" y1="108.4" x2="348.46" y2="110.4" stroke="#222" stroke-width="1.0" />
<line x1="352.23" y1="108.4" x2="352.23" y2="110.4" stroke="#222" stroke-width="1.0" />
<line x1="356" y1="108.4" x2="356" y2="110.4" stroke="#222" stroke-width="1.0" />
<line x1="359.77" y1="108.4" x2="359.77" y2="110.4" stroke="#222" stroke-width="1.0" />
<line x1="363.54" y1="108.4" x2="363.54" y2="110.4" stroke="#222" stroke-width="1.0" />
<line x1="367.31" y1="108.4" x2="367.31" y2="110.4" stroke="#222" stroke-width="1.0" />
<line x1="371.08" y1="108.4" x2="371.08" y2="110.4" stroke="#222" stroke-width="1.0" />
<line x1="374.85" y1="108.4" x2="374.85" y2="110.4" stroke="#222" stroke-width="1.0" />
<line x1="378.62" y1="108.4" x2="378.62" y2="110.4" stroke="#222" stroke-width="1.0" />
<line x1="382.39" y1="108.4" x2="382.39" y2="110.4" stroke="#222" stroke-width="1.0" />
<line x1="386.16" y1="108.4" x2="386.16" y2="110.4" stroke="#222" stroke-width="1.0" />
<line x1="389.93" y1="108.4" x2="389.93" y2="110.4" stroke="#222" stroke-width="1.0" />
<line x1="393.7" y1="108.4" x2="393.7" y2="112" stroke="#222" stroke-width="1.2" />
<text x="292.2" y="119.7" font-size="7.8" text-anchor="middle" fill="#1a1a1a" font-weight="normal" stroke="#1a1a1a" stroke-width="0.18" >232</text>
<text x="393.7" y="119.7" font-size="7.8" text-anchor="middle" fill="#1a1a1a" font-weight="normal" stroke="#1a1a1a" stroke-width="0.18" >313</text>
<text x="327.9" y="32.3" font-size="8.0" fill="#1a1a1a" stroke="#1a1a1a" stroke-width="0.15"><tspan letter-spacing="-0.55">CD127</tspan><tspan dx="1.73" dy="-3.57" font-size="5.78" font-weight="bold">+</tspan></text>
<text transform="translate(286,72.3) rotate(-90)" font-size="8.4" text-anchor="middle" fill="#2a2a2a">V<tspan font-size="7.6">H</tspan>-J<tspan font-size="7.6">H</tspan></text>
<path d="M411.8 107.61 L412.15 107.7 L412.5 107.62 L412.85 107.46 L413.2 107.32 L413.55 107.29 L413.9 107.37 L414.25 107.5 L414.6 107.63 L414.95 107.69 L415.3 107.69 L415.65 107.65 L416 107.49 L416.35 106.96 L416.7 105.86 L417.05 104.83 L417.4 104.92 L417.75 106.05 L418.1 107.1 L418.45 107.56 L418.8 107.66 L419.15 107.64 L419.5 107.59 L419.85 107.55 L420.2 107.49 L420.55 107.26 L420.9 106.62 L421.25 105.76 L421.6 105.45 L421.95 105.95 L422.29 106.61 L422.64 106.96 L422.99 107.13 L423.34 107.34 L423.69 107.57 L424.04 107.69 L424.39 107.61 L424.74 107.22 L425.09 106.35 L425.44 104.85 L425.79 103.44 L426.14 103.5 L426.49 105.1 L426.84 106.6 L427.19 104 L427.54 101.4 L427.89 102.52 L428.24 105.33 L428.59 106.69 L428.94 107.09 L429.29 107.35 L429.64 107.58 L429.99 107.69 L430.34 107.67 L430.69 107.57 L431.04 107.47 L431.39 107.44 L431.74 107.48 L432.09 107.57 L432.44 107.65 L432.79 107.68 L433.14 107.56 L433.49 106.64 L433.84 103.23 L434.19 97.37 L434.54 94.65 L434.89 98.68 L435.24 104.29 L435.59 106.99 L435.94 107.28 L436.29 105.78 L436.64 102.81 L436.99 100.89 L437.34 102.44 L437.69 105.35 L438.04 106.98 L438.39 105.86 L438.74 100.5 L439.09 88.97 L439.44 77.57 L439.79 77.85 L440.14 89.34 L440.49 100.41 L440.84 105.51 L441.19 105.3 L441.54 101.77 L441.89 98.28 L442.24 99.21 L442.59 103.3 L442.94 106.02 L443.28 105.9 L443.63 102.63 L443.98 95.99 L444.33 89.59 L444.68 90.11 L445.03 97.13 L445.38 103.7 L445.73 106.51 L446.08 106.7 L446.43 104.66 L446.78 99.76 L447.13 93.59 L447.48 91.88 L447.83 96.75 L448.18 103.02 L448.53 103.98 L448.88 97.93 L449.23 91.96 L449.58 92.14 L449.93 98.26 L450.28 104.19 L450.63 106.9 L450.98 107.11 L451.33 105.15 L451.68 101.71 L452.03 100.01 L452.38 102.3 L452.73 105.6 L453.08 107.22 L453.43 107.61 L453.78 107.69 L454.13 107.7 L454.48 107.62 L454.83 107.21 L455.18 105.56 L455.53 101.68 L455.88 97.94 L456.23 98.89 L456.58 103.34 L456.93 106.54 L457.28 107.48 L457.63 106.54 L457.98 102.93 L458.33 94.92 L458.68 85.95 L459.03 84.69 L459.38 92.71 L459.73 101.74 L460.08 106.25 L460.43 104.9 L460.78 99.8 L461.13 95.53 L461.48 97.26 L461.83 102.57 L462.18 106.14 L462.53 107.38 L462.88 107.68 L463.23 107.67 L463.58 107.47 L463.93 106.91 L464.27 105.17 L464.62 101.87 L464.97 99.75 L465.32 101.64 L465.67 105.17 L466.02 107.12 L466.37 107.61 L466.72 107.65 L467.07 107.65 L467.42 107.66 L467.77 107.68 L468.47 107.68 L468.82 107.51 L469.17 106.54 L469.52 103.31 L469.87 97.47 L470.22 93.1 L470.57 94.9 L470.92 100.78 L471.27 105.38 L471.62 105.03 L471.97 98.83 L472.32 91.3 L472.67 91.04 L473.02 98.26 L473.37 93.19 L473.72 87.19 L474.07 89.81 L474.42 98.12 L474.77 104.59 L475.12 106.55 L475.47 103.66 L475.82 100.09 L476.17 99.74 L476.52 102.85 L476.87 105.75 L477.22 107.05 L477.57 107.53 L477.92 107.7 L478.27 107.62 L478.62 107.37 L478.97 107.11 L479.32 106.97 L479.67 107.03 L480.02 107.24 L480.37 107.5 L480.72 107.66 L481.07 107.69 L481.42 107.61 L481.77 107.49 L482.12 107.36 L482.47 107.06 L482.82 106.05 L483.17 103.86 L483.52 101.29 L483.87 100.45 L484.22 102.21 L484.57 104.92 L484.92 106.76 L485.26 107.49 L485.61 107.67 L485.96 107.69 L487.36 107.68 L487.71 107.63 L488.06 107.54 L488.41 107.46 L488.76 107.38 L489.11 107.18 L489.46 106.44 L489.81 104.86 L490.16 103.12 L490.51 102.62 L490.86 103.76 L491.21 105.38 L491.56 106.45 L491.91 106.99 L492.26 107.35 L492.61 107.61 L492.96 107.7 L493.31 107.57 L493.66 107.27 L494.01 106.96 L494.36 106.81 L494.71 106.89 L495.06 107.16 L495.41 107.48 L495.76 107.68 L496.11 107.67 L496.46 107.49 L496.81 107.26 L497.16 107.12 L497.51 107.13 L497.86 107.29 L498.21 107.49 L498.56 107.65 L498.91 107.7 L499.26 107.66 L499.61 107.6 L499.96 107.55 L500.31 107.56 L500.66 107.61 L501.01 107.66 L501.36 107.69 L503.11 107.69 L503.46 107.67 L503.81 107.66 L504.16 107.66 L504.51 107.68 L504.86 107.7 L505.21 107.68 L505.56 107.6 L505.91 107.46 L506.25 107.34 L506.6 107.29 L506.95 107.36 L507.3 107.52 L507.65 107.66 L508 107.69 L508.35 107.55 L508.7 107.28 L509.05 107 L509.4 106.88 L509.75 106.97 L510.1 107.23 L510.45 107.53 L510.8 107.69 L511.15 107.63 L511.5 107.37 L511.85 107.06 L512.2 106.87 L512.55 106.9 L512.9 107.12 L513.25 107.42 L513.6 107.64 L513.95 107.7 L514.3 107.59 L514.65 107.41 L515 107.28 L515.35 107.27 L515.7 107.37 L516.05 107.52 L516.4 107.64" stroke="#5c5c5c" stroke-width="0.7" fill="none" stroke-linejoin="round" />
<path d="M426 107.7 L427.75 107.7 L428.09 107.61 L428.44 105.35 L428.79 86.8 L429.14 46.93 L429.49 49.97 L429.84 89.79 L430.19 105.88 L430.54 107.64 L430.89 107.7 L495.11 107.7 L495.46 107.63 L495.81 106.11 L496.16 93.46 L496.51 57.88 L496.86 39.6 L497.21 71.35 L497.56 100.12 L497.91 107.08 L498.25 107.7 L500 107.7" stroke="#8c8c8c" stroke-width="0.75" fill="none" stroke-linejoin="round" />
<path d="M410.8 35.7 L517.4 35.7 L517.4 108.4" stroke="#555" stroke-width="0.9" fill="none"/>
<path d="M410.8 35.3 L410.8 108.4 L517.8 108.4" stroke="#333" stroke-width="1.1" fill="none"/>
<line x1="411.9" y1="108.4" x2="411.9" y2="112" stroke="#222" stroke-width="1.2" />
<line x1="415.67" y1="108.4" x2="415.67" y2="110.4" stroke="#222" stroke-width="1.0" />
<line x1="419.44" y1="108.4" x2="419.44" y2="110.4" stroke="#222" stroke-width="1.0" />
<line x1="423.21" y1="108.4" x2="423.21" y2="110.4" stroke="#222" stroke-width="1.0" />
<line x1="426.98" y1="108.4" x2="426.98" y2="110.4" stroke="#222" stroke-width="1.0" />
<line x1="430.75" y1="108.4" x2="430.75" y2="110.4" stroke="#222" stroke-width="1.0" />
<line x1="434.52" y1="108.4" x2="434.52" y2="110.4" stroke="#222" stroke-width="1.0" />
<line x1="438.29" y1="108.4" x2="438.29" y2="110.4" stroke="#222" stroke-width="1.0" />
<line x1="442.06" y1="108.4" x2="442.06" y2="110.4" stroke="#222" stroke-width="1.0" />
<line x1="445.83" y1="108.4" x2="445.83" y2="110.4" stroke="#222" stroke-width="1.0" />
<line x1="449.6" y1="108.4" x2="449.6" y2="110.4" stroke="#222" stroke-width="1.0" />
<line x1="453.37" y1="108.4" x2="453.37" y2="110.4" stroke="#222" stroke-width="1.0" />
<line x1="457.14" y1="108.4" x2="457.14" y2="110.4" stroke="#222" stroke-width="1.0" />
<line x1="460.91" y1="108.4" x2="460.91" y2="110.4" stroke="#222" stroke-width="1.0" />
<line x1="464.69" y1="108.4" x2="464.69" y2="110.4" stroke="#222" stroke-width="1.0" />
<line x1="468.46" y1="108.4" x2="468.46" y2="110.4" stroke="#222" stroke-width="1.0" />
<line x1="472.23" y1="108.4" x2="472.23" y2="110.4" stroke="#222" stroke-width="1.0" />
<line x1="476" y1="108.4" x2="476" y2="110.4" stroke="#222" stroke-width="1.0" />
<line x1="479.77" y1="108.4" x2="479.77" y2="110.4" stroke="#222" stroke-width="1.0" />
<line x1="483.54" y1="108.4" x2="483.54" y2="110.4" stroke="#222" stroke-width="1.0" />
<line x1="487.31" y1="108.4" x2="487.31" y2="110.4" stroke="#222" stroke-width="1.0" />
<line x1="491.08" y1="108.4" x2="491.08" y2="110.4" stroke="#222" stroke-width="1.0" />
<line x1="494.85" y1="108.4" x2="494.85" y2="110.4" stroke="#222" stroke-width="1.0" />
<line x1="498.62" y1="108.4" x2="498.62" y2="110.4" stroke="#222" stroke-width="1.0" />
<line x1="502.39" y1="108.4" x2="502.39" y2="110.4" stroke="#222" stroke-width="1.0" />
<line x1="506.16" y1="108.4" x2="506.16" y2="110.4" stroke="#222" stroke-width="1.0" />
<line x1="509.93" y1="108.4" x2="509.93" y2="110.4" stroke="#222" stroke-width="1.0" />
<line x1="513.7" y1="108.4" x2="513.7" y2="112" stroke="#222" stroke-width="1.2" />
<text x="412.2" y="119.7" font-size="7.8" text-anchor="middle" fill="#1a1a1a" font-weight="normal" stroke="#1a1a1a" stroke-width="0.18" >232</text>
<text x="513.7" y="119.7" font-size="7.8" text-anchor="middle" fill="#1a1a1a" font-weight="normal" stroke="#1a1a1a" stroke-width="0.18" >313</text>
<text x="448.5" y="32.3" font-size="8.0" fill="#1a1a1a" stroke="#1a1a1a" stroke-width="0.15"><tspan letter-spacing="-0.55">CD127</tspan><tspan dx="0.96" dy="-2.89" font-size="4.82" font-weight="bold">-</tspan></text>
<text x="403.9" y="128.2" font-size="7.5" text-anchor="middle" fill="#222" font-weight="normal" stroke="#222" stroke-width="0.18" >fragment size (3nt spacing)</text>
<text x="276.1" y="160.2" font-size="10.5" text-anchor="start" fill="#111" font-weight="bold" stroke="#111" stroke-width="0.18" >H</text>
<path d="M291.6 244.41 L291.95 244.57 L292.3 244.61 L292.65 244.23 L293 243.14 L293.35 241.92 L293.7 241.95 L294.05 243.13 L294.4 244.13 L294.75 244.54 L295.1 244.45 L295.45 243.9 L295.8 243.15 L296.15 243.04 L296.5 243.71 L296.85 244.35 L297.2 244.61 L297.55 244.68 L298.6 244.69 L298.95 244.62 L299.3 244.31 L299.65 243.73 L300 243.37 L300.35 243.7 L300.7 244.27 L301.05 244.6 L301.4 244.69 L301.75 244.69 L302.09 244.63 L302.44 244.55 L302.79 244.47 L303.14 244.45 L303.49 244.48 L303.84 244.52 L304.19 244.3 L304.54 243.56 L304.89 242.76 L305.24 242.81 L305.59 243.5 L305.94 244.02 L306.29 244.25 L306.64 244.43 L306.99 244.57 L307.34 244.48 L307.69 243.79 L308.04 242.42 L308.39 241.23 L308.74 241.41 L309.09 242.68 L309.44 243.85 L309.79 244.44 L310.14 244.58 L310.49 244.22 L310.84 243.09 L311.19 241.5 L311.54 240.81 L311.89 241.76 L312.24 243.3 L312.59 244.27 L312.94 244.61 L313.29 244.48 L313.64 243.76 L313.99 242.25 L314.34 240.79 L314.69 240.87 L315.04 242.4 L315.39 243.85 L315.74 244.51 L316.09 244.63 L316.44 244.33 L316.79 243.43 L317.14 241.99 L317.49 241.16 L317.84 241.84 L318.19 243.25 L318.54 244.22 L318.89 244.33 L319.24 243.48 L319.59 241.92 L319.94 240.76 L320.29 241.21 L320.64 242.67 L320.99 243.8 L321.34 242.98 L321.69 239.91 L322.04 233.8 L322.39 226.15 L322.74 221.57 L323.08 223.61 L323.43 230.57 L323.78 237.63 L324.13 241.95 L324.48 240 L324.83 234.25 L325.18 227.04 L325.53 222.71 L325.88 224.68 L326.23 231.32 L326.58 238.04 L326.93 240.23 L327.28 232.7 L327.63 218.78 L327.98 201.16 L328.33 188.34 L328.68 188.63 L329.03 201.84 L329.38 219.52 L329.73 233.3 L330.08 240.71 L330.43 234.32 L330.78 222.79 L331.13 209.06 L331.48 200.19 L331.83 202.03 L332.18 213.3 L332.53 226.97 L332.88 237.02 L333.23 242.13 L333.58 237.33 L333.93 228.47 L334.28 217.24 L334.63 209.03 L334.98 209.13 L335.33 217.43 L335.68 228.6 L336.03 237.35 L336.38 241.15 L336.73 236.55 L337.08 230.79 L337.43 227.32 L337.78 228.81 L338.13 234.03 L338.48 239.32 L338.83 242.52 L339.18 242.7 L339.53 239.86 L339.88 235.12 L340.23 230.45 L340.58 229.09 L340.93 232.14 L341.28 237.18 L341.63 241.21 L341.98 243.3 L342.33 243.78 L342.68 242.54 L343.03 239.52 L343.38 234.98 L343.73 231.28 L344.07 231.16 L344.42 234.7 L344.77 239.25 L345.12 242.47 L345.47 244 L345.82 243.18 L346.17 240.98 L346.52 238.43 L346.87 237.63 L347.22 239.36 L347.57 241.99 L347.92 243.77 L348.27 244.48 L348.62 244.66 L348.97 244.7 L350.72 244.68 L351.07 244.67 L351.42 244.67 L351.77 244.68 L352.12 244.7 L352.47 244.7 L352.82 244.66 L353.17 244.59 L353.52 244.5 L353.87 244.45 L354.22 244.47 L354.57 244.55 L354.92 244.65 L355.27 244.7 L355.62 244.66 L355.97 244.52 L356.32 244.36 L356.67 244.24 L357.02 244.25 L357.37 244.37 L357.72 244.54 L358.07 244.67 L358.42 244.69 L358.77 244.59 L359.12 244.42 L359.47 244.28 L359.82 244.25 L360.17 244.33 L360.52 244.49 L360.87 244.63 L361.22 244.7 L361.57 244.67 L361.92 244.59 L362.27 244.51 L362.62 244.48 L362.97 244.51 L363.32 244.58 L363.67 244.65 L364.02 244.69 L364.72 244.69 L365.06 244.68 L365.41 244.68 L365.76 244.69 L367.86 244.69 L368.21 244.67 L368.56 244.64 L368.91 244.62 L369.26 244.62 L369.61 244.65 L369.96 244.68 L370.31 244.7 L370.66 244.66 L371.01 244.57 L371.36 244.45 L371.71 244.38 L372.06 244.38 L372.41 244.47 L372.76 244.6 L373.11 244.69 L373.46 244.68 L373.81 244.56 L374.16 244.38 L374.51 244.24 L374.86 244.21 L375.21 244.31 L375.56 244.49 L375.91 244.64 L376.26 244.7 L376.61 244.63 L376.96 244.49 L377.31 244.36 L377.66 244.3 L378.01 244.36 L378.36 244.48 L378.71 244.61 L379.06 244.69 L379.41 244.69 L379.76 244.64 L380.11 244.58 L380.46 244.56 L380.81 244.58 L381.16 244.62 L381.51 244.67 L381.86 244.69 L385.71 244.68 L386.05 244.64 L386.4 244.59 L386.75 244.55 L387.1 244.55 L387.45 244.59 L387.8 244.66 L388.15 244.7 L388.5 244.67 L388.85 244.57 L389.2 244.43 L389.55 244.31 L389.9 244.3 L390.25 244.39 L390.6 244.54 L390.95 244.67 L391.3 244.69 L391.65 244.6 L392 244.42 L392.35 244.26 L392.7 244.21 L393.05 244.28 L393.4 244.44 L393.75 244.61 L394.1 244.7 L394.45 244.67 L394.8 244.56 L395.15 244.45 L395.5 244.38 L395.85 244.41 L396.2 244.5" stroke="#1e1e1e" stroke-width="0.95" fill="none" stroke-linejoin="round" />
<path d="M318 244.7 L319.39 244.68 L319.73 244.64 L320.08 244.5 L320.43 244.13 L320.78 243.3 L321.12 241.67 L321.47 238.96 L321.82 235.14 L322.16 230.73 L322.51 226.77 L322.86 224.51 L323.2 224.74 L323.55 227.38 L323.9 231.51 L324.24 235.88 L324.59 235.88 L324.94 231.68 L325.29 227.85 L325.63 225.54 L325.98 225.59 L326.33 227.96 L326.67 231.83 L327.02 230.34 L327.37 221.71 L327.71 211.68 L328.06 202.15 L328.41 195.49 L328.76 193.64 L329.1 197.16 L329.45 204.98 L329.8 214.92 L330.14 224.67 L330.49 226.33 L330.84 218.5 L331.18 211.17 L331.53 206.2 L331.88 205.03 L332.22 208.02 L332.57 214.27 L332.92 222.05 L333.27 229.57 L333.61 231.09 L333.96 224.81 L334.31 218.63 L334.65 214.02 L335 212.32 L335.35 214.02 L335.69 218.63 L336.04 224.81 L336.39 231.09 L336.73 235.4 L337.08 232.18 L337.43 229.9 L337.78 229.35 L338.12 230.72 L338.47 233.52 L338.82 236.86 L339.16 239.87 L339.51 238.28 L339.86 235.3 L340.2 232.61 L340.55 231.05 L340.9 231.17 L341.24 232.94 L341.59 235.72 L341.94 238.68 L342.29 241.16 L342.63 240.89 L342.98 238.5 L343.33 235.85 L343.67 233.62 L344.02 232.51 L344.37 232.93 L344.71 234.73 L345.06 237.28 L345.41 239.86 L345.76 241.92 L346.1 241.11 L346.45 239.63 L346.8 238.63 L347.14 238.54 L347.49 239.4 L347.84 240.84 L348.18 242.32 L348.53 243.45 L348.88 244.15 L349.22 244.49 L349.57 244.63 L349.92 244.68 L352 244.7" stroke="#3a3a3a" stroke-width="0.7" fill="none" stroke-linejoin="round" />
<path d="M379 244.7 L380.38 244.7 L380.73 244.66 L381.08 244.48 L381.42 243.81 L381.77 241.84 L382.12 237.24 L382.46 228.98 L382.81 217.92 L383.15 207.84 L383.5 203.7 L383.85 207.84 L384.19 217.92 L384.54 228.98 L384.88 237.24 L385.23 241.84 L385.58 243.81 L385.92 244.48 L386.27 244.66 L386.62 244.7 L388 244.7" stroke="#5a5a5a" stroke-width="0.9" fill="none" stroke-linejoin="round" />
<path d="M381 244.7 L381.67 244.7 L382 244.63 L382.33 244.01 L382.67 240.49 L383 229.82 L383.33 214.33 L383.67 208.9 L384 220.31 L384.33 235.11 L384.67 242.52 L385 244.41 L385.33 244.68 L385.67 244.7 L386 244.7" stroke="#8a8a8a" stroke-width="0.6" fill="none" stroke-linejoin="round" />
<path d="M290.6 172.5 L397.2 172.5 L397.2 245.4" stroke="#555" stroke-width="0.9" fill="none"/>
<path d="M290.6 172.1 L290.6 245.4 L397.6 245.4" stroke="#333" stroke-width="1.1" fill="none"/>
<line x1="295.7" y1="245.4" x2="295.7" y2="249" stroke="#222" stroke-width="1.2" />
<line x1="304.56" y1="245.4" x2="304.56" y2="247.4" stroke="#222" stroke-width="1.0" />
<line x1="313.43" y1="245.4" x2="313.43" y2="247.4" stroke="#222" stroke-width="1.0" />
<line x1="322.29" y1="245.4" x2="322.29" y2="247.4" stroke="#222" stroke-width="1.0" />
<line x1="331.15" y1="245.4" x2="331.15" y2="247.4" stroke="#222" stroke-width="1.0" />
<line x1="340.02" y1="245.4" x2="340.02" y2="247.4" stroke="#222" stroke-width="1.0" />
<line x1="348.88" y1="245.4" x2="348.88" y2="247.4" stroke="#222" stroke-width="1.0" />
<line x1="357.75" y1="245.4" x2="357.75" y2="247.4" stroke="#222" stroke-width="1.0" />
<line x1="366.61" y1="245.4" x2="366.61" y2="247.4" stroke="#222" stroke-width="1.0" />
<line x1="375.47" y1="245.4" x2="375.47" y2="247.4" stroke="#222" stroke-width="1.0" />
<line x1="384.34" y1="245.4" x2="384.34" y2="247.4" stroke="#222" stroke-width="1.0" />
<line x1="393.2" y1="245.4" x2="393.2" y2="249" stroke="#222" stroke-width="1.2" />
<text x="296" y="256.7" font-size="7.8" text-anchor="middle" fill="#1a1a1a" font-weight="normal" stroke="#1a1a1a" stroke-width="0.18" >272</text>
<text x="393.2" y="256.7" font-size="7.8" text-anchor="middle" fill="#1a1a1a" font-weight="normal" stroke="#1a1a1a" stroke-width="0.18" >305</text>
<text x="327.9" y="168.8" font-size="8.0" fill="#1a1a1a" stroke="#1a1a1a" stroke-width="0.15"><tspan letter-spacing="-0.55">CD127</tspan><tspan dx="1.73" dy="-3.57" font-size="5.78" font-weight="bold">+</tspan></text>
<text transform="translate(286,209) rotate(-90)" font-size="8.4" text-anchor="middle" fill="#2a2a2a">Vκ-Jκ</text>
<path d="M411.8 244.6 L412.15 244.41 L412.5 243.74 L412.85 242.96 L413.2 242.95 L413.55 243.66 L413.9 244.28 L414.25 244.56 L414.6 244.66 L414.95 244.69 L415.3 244.64 L415.65 244.33 L416 243.55 L416.35 242.69 L416.7 242.78 L417.05 243.69 L417.4 244.41 L417.75 244.65 L418.1 244.69 L418.45 244.58 L418.8 244.13 L419.15 243.27 L419.5 242.74 L419.85 243.21 L420.2 244.05 L420.55 244.53 L420.9 244.68 L421.25 244.65 L421.6 244.34 L421.95 243.47 L422.29 242.37 L422.64 242.19 L422.99 243.14 L423.34 244.1 L423.69 244.56 L424.04 244.68 L424.39 244.53 L424.74 243.87 L425.09 242.55 L425.44 241.54 L425.79 242.04 L426.14 243.37 L426.49 244.28 L426.84 244.14 L427.19 243.12 L427.54 241.72 L427.89 241.22 L428.24 242.1 L428.59 243.36 L428.94 244.13 L429.29 244.37 L429.64 243.98 L429.99 242.74 L430.34 241.1 L430.69 240.59 L431.04 241.79 L431.39 243.38 L431.74 244.27 L432.09 244.29 L432.44 243.43 L432.79 241.61 L433.14 239.6 L433.49 239.07 L433.84 240.55 L434.19 242.66 L434.54 244.03 L434.89 244.55 L435.24 244.08 L435.59 242.78 L435.94 240.69 L436.29 239.11 L436.64 239.49 L436.99 241.42 L437.34 243.26 L437.69 244.19 L438.04 244.01 L438.39 242.9 L438.74 241.09 L439.09 239.71 L439.44 240.01 L439.79 241.66 L440.14 243.21 L440.49 243.98 L440.84 244.22 L441.19 243.92 L441.54 242.55 L441.89 238.86 L442.24 232.74 L442.59 227.12 L442.94 226.25 L443.28 230.83 L443.63 237.14 L443.98 241.65 L444.33 243.77 L444.68 242.46 L445.03 239.58 L445.38 236.6 L445.73 236.09 L446.08 238.51 L446.43 241.62 L446.78 243.47 L447.13 240.98 L447.48 234.62 L447.83 223.37 L448.18 210.39 L448.53 202.99 L448.88 206.4 L449.23 218.14 L449.58 230.78 L449.93 239.19 L450.28 236.32 L450.63 224.36 L450.98 206.21 L451.33 187.95 L451.68 179.52 L452.03 186.38 L452.38 204.05 L452.73 222.61 L453.08 235.34 L453.43 225.27 L453.78 207.93 L454.13 190.44 L454.48 182.3 L454.83 188.75 L455.18 205.56 L455.53 223.3 L455.88 235.51 L456.23 240.59 L456.58 234.11 L456.93 223.16 L457.28 210.85 L457.63 203.79 L457.98 206.68 L458.33 217.49 L458.68 229.66 L459.03 238.24 L459.38 241.7 L459.73 237.16 L460.08 229.88 L460.43 222.89 L460.78 220.82 L461.13 225.23 L461.48 232.83 L461.83 239.24 L462.18 242.78 L462.53 241.05 L462.88 236.95 L463.23 232.71 L463.58 231.41 L463.93 234.16 L464.27 238.69 L464.62 242.19 L464.97 243.91 L465.32 244.3 L465.67 243.37 L466.02 241.18 L466.37 238.4 L466.72 237.18 L467.07 238.72 L467.42 241.52 L467.77 243.57 L468.12 244.43 L468.47 244.23 L468.82 242.94 L469.17 240.61 L469.52 238.87 L469.87 239.59 L470.22 241.94 L470.57 243.74 L470.92 244.45 L471.27 244.56 L471.62 244.25 L471.97 243.38 L472.32 242.19 L472.67 241.73 L473.02 242.45 L473.37 243.52 L473.72 244.15 L474.07 244.42 L474.42 244.48 L474.77 244.22 L475.12 243.5 L475.47 242.89 L475.82 243.09 L476.17 243.7 L476.52 244.07 L476.87 244.26 L477.22 244.45 L477.57 244.62 L477.92 244.7 L478.27 244.66 L478.62 244.52 L478.97 244.37 L479.32 244.29 L479.67 244.33 L480.02 244.45 L480.37 244.59 L480.72 244.68 L481.07 244.7 L481.42 244.65 L481.77 244.59 L482.12 244.55 L482.47 244.56 L482.82 244.6 L483.17 244.65 L483.52 244.69 L487.36 244.69 L487.71 244.66 L488.06 244.61 L488.41 244.57 L488.76 244.56 L489.11 244.59 L489.46 244.65 L489.81 244.7 L490.16 244.68 L490.51 244.6 L490.86 244.46 L491.21 244.34 L491.56 244.3 L491.91 244.37 L492.26 244.51 L492.61 244.65 L492.96 244.7 L493.31 244.63 L493.66 244.46 L494.01 244.29 L494.36 244.2 L494.71 244.25 L495.06 244.4 L495.41 244.58 L495.76 244.69 L496.11 244.68 L496.46 244.58 L496.81 244.46 L497.16 244.38 L497.51 244.38 L497.86 244.47 L498.21 244.58 L498.56 244.67 L498.91 244.7 L499.26 244.68 L499.61 244.64 L499.96 244.62 L500.31 244.62 L500.66 244.65 L501.01 244.68 L501.36 244.69 L503.46 244.68 L503.81 244.68 L504.16 244.68 L504.51 244.69 L505.21 244.69 L505.56 244.64 L505.91 244.57 L506.25 244.5 L506.6 244.47 L506.95 244.51 L507.3 244.6 L507.65 244.68 L508 244.69 L508.35 244.61 L508.7 244.46 L509.05 244.31 L509.4 244.24 L509.75 244.29 L510.1 244.44 L510.45 244.61 L510.8 244.7 L511.15 244.66 L511.5 244.52 L511.85 244.35 L512.2 244.24 L512.55 244.26 L512.9 244.38 L513.25 244.55 L513.6 244.67 L513.95 244.7 L514.3 244.64 L514.65 244.54 L515 244.47 L515.35 244.46 L515.7 244.52 L516.05 244.6 L516.4 244.67" stroke="#1e1e1e" stroke-width="0.95" fill="none" stroke-linejoin="round" />
<path d="M438 244.7 L439.39 244.69 L439.73 244.67 L440.08 244.58 L440.43 244.34 L440.78 243.76 L441.12 242.57 L441.47 240.48 L441.82 237.42 L442.16 233.78 L442.51 230.45 L442.86 228.52 L443.2 228.72 L443.55 230.97 L443.9 234.43 L444.24 238.02 L444.59 240.92 L444.94 240.1 L445.29 238.32 L445.63 237.19 L445.98 237.21 L446.33 238.37 L446.67 240.17 L447.02 236.58 L447.37 230.87 L447.71 223.71 L448.06 216.29 L448.41 210.44 L448.76 207.86 L449.1 209.4 L449.45 214.55 L449.8 221.74 L450.14 229.12 L450.49 220.04 L450.84 209.2 L451.18 198.56 L451.53 190.55 L451.88 187.34 L452.22 189.83 L452.57 197.32 L452.92 207.77 L453.27 218.7 L453.61 211.48 L453.96 201.21 L454.31 193.29 L454.65 189.84 L455 191.85 L455.35 198.73 L455.69 208.6 L456.04 219.11 L456.39 228.32 L456.73 225.12 L457.08 218.01 L457.43 212.05 L457.78 208.87 L458.12 209.41 L458.47 213.52 L458.82 219.97 L459.16 227.11 L459.51 233.47 L459.86 232.65 L460.2 228.32 L460.55 225.01 L460.9 223.76 L461.24 224.98 L461.59 228.28 L461.94 232.6 L462.29 236.81 L462.63 238.64 L462.98 236.03 L463.33 233.9 L463.67 233 L464.02 233.67 L464.37 235.65 L464.71 238.24 L465.06 240.69 L465.41 242.53 L465.76 242.02 L466.1 240.44 L466.45 238.96 L466.8 238.15 L467.14 238.36 L467.49 239.5 L467.84 241.09 L468.18 242.58 L468.53 243.64 L468.88 244.25 L469.22 244.54 L469.57 244.65 L469.92 244.69 L472 244.7" stroke="#3a3a3a" stroke-width="0.7" fill="none" stroke-linejoin="round" />
<path d="M499 244.7 L500.04 244.7 L500.38 244.67 L500.73 244.57 L501.08 244.16 L501.42 242.89 L501.77 239.63 L502.12 232.94 L502.46 222.05 L502.81 208.53 L503.15 196.8 L503.5 192.1 L503.85 196.8 L504.19 208.53 L504.54 222.05 L504.88 232.94 L505.23 239.63 L505.58 242.89 L505.92 244.16 L506.27 244.57 L506.62 244.67 L506.96 244.7 L508 244.7" stroke="#5a5a5a" stroke-width="0.9" fill="none" stroke-linejoin="round" />
<path d="M501 244.7 L502 244.7 L502.33 244.47 L502.67 242.76 L503 235.19 L503.33 217.72 L503.67 200.48 L504 202.84 L504.33 221.81 L504.67 237.47 L505 243.38 L505.33 244.56 L505.67 244.7 L507 244.7" stroke="#8a8a8a" stroke-width="0.6" fill="none" stroke-linejoin="round" />
<path d="M410.8 172.6 L517.4 172.6 L517.4 245.4" stroke="#555" stroke-width="0.9" fill="none"/>
<path d="M410.8 172.2 L410.8 245.4 L517.8 245.4" stroke="#333" stroke-width="1.1" fill="none"/>
<line x1="416.1" y1="245.4" x2="416.1" y2="249" stroke="#222" stroke-width="1.2" />
<line x1="424.96" y1="245.4" x2="424.96" y2="247.4" stroke="#222" stroke-width="1.0" />
<line x1="433.83" y1="245.4" x2="433.83" y2="247.4" stroke="#222" stroke-width="1.0" />
<line x1="442.69" y1="245.4" x2="442.69" y2="247.4" stroke="#222" stroke-width="1.0" />
<line x1="451.55" y1="245.4" x2="451.55" y2="247.4" stroke="#222" stroke-width="1.0" />
<line x1="460.42" y1="245.4" x2="460.42" y2="247.4" stroke="#222" stroke-width="1.0" />
<line x1="469.28" y1="245.4" x2="469.28" y2="247.4" stroke="#222" stroke-width="1.0" />
<line x1="478.15" y1="245.4" x2="478.15" y2="247.4" stroke="#222" stroke-width="1.0" />
<line x1="487.01" y1="245.4" x2="487.01" y2="247.4" stroke="#222" stroke-width="1.0" />
<line x1="495.87" y1="245.4" x2="495.87" y2="247.4" stroke="#222" stroke-width="1.0" />
<line x1="504.74" y1="245.4" x2="504.74" y2="247.4" stroke="#222" stroke-width="1.0" />
<line x1="513.6" y1="245.4" x2="513.6" y2="249" stroke="#222" stroke-width="1.2" />
<text x="416.4" y="256.7" font-size="7.8" text-anchor="middle" fill="#1a1a1a" font-weight="normal" stroke="#1a1a1a" stroke-width="0.18" >272</text>
<text x="513.6" y="256.7" font-size="7.8" text-anchor="middle" fill="#1a1a1a" font-weight="normal" stroke="#1a1a1a" stroke-width="0.18" >305</text>
<text x="448.5" y="168.9" font-size="8.0" fill="#1a1a1a" stroke="#1a1a1a" stroke-width="0.15"><tspan letter-spacing="-0.55">CD127</tspan><tspan dx="0.96" dy="-2.89" font-size="4.82" font-weight="bold">-</tspan></text>
<text x="403.9" y="267.2" font-size="7.5" text-anchor="middle" fill="#222" font-weight="normal" stroke="#222" stroke-width="0.18" >fragment size (3nt spacing)</text>
<text x="276.3" y="299" font-size="10.5" text-anchor="start" fill="#111" font-weight="bold" stroke="#111" stroke-width="0.18" >I</text>
<path d="M291.6 383.9 L323.08 383.9 L323.43 383.85 L323.78 383.52 L324.13 382.65 L324.48 382 L324.83 382.56 L325.18 383.46 L325.53 383.79 L325.88 383.16 L326.23 381.23 L326.58 378.65 L326.93 378.25 L327.28 380.58 L327.63 382.84 L327.98 383.71 L328.33 383.85 L328.68 383.56 L329.03 382.27 L329.38 378.77 L329.73 373.11 L330.08 368.75 L330.43 369.71 L330.78 375.03 L331.13 380.2 L331.48 382.87 L331.83 383.71 L332.18 383.88 L332.53 383.9 L334.98 383.9 L335.33 383.87 L335.68 383.69 L336.03 382.76 L336.38 379.84 L336.73 374.28 L337.08 368.69 L337.43 367.84 L337.78 372.59 L338.13 378.58 L338.48 379.25 L338.83 370.69 L339.18 356.61 L339.53 342.87 L339.88 339.05 L340.23 348.23 L340.58 363.27 L340.93 375.22 L341.28 371.42 L341.63 354.93 L341.98 333.12 L342.33 316.68 L342.68 316.72 L343.03 333.2 L343.38 355.01 L343.73 371.47 L344.07 379.86 L344.42 378.53 L344.77 369.69 L345.12 357.17 L345.47 348.1 L345.82 349.77 L346.17 360.74 L346.52 372.71 L346.87 377.36 L347.22 368.31 L347.57 359.1 L347.92 357.57 L348.27 365.24 L348.62 375.08 L348.97 381.12 L349.32 383.31 L349.67 383.82 L350.02 383.9 L350.72 383.9 L351.07 383.87 L351.42 383.69 L351.77 382.88 L352.12 380.45 L352.47 375.58 L352.82 369.65 L353.17 366.52 L353.52 368.81 L353.87 374.58 L354.22 379.8 L354.57 382.62 L354.92 383.61 L355.27 383.85 L355.62 383.9 L396.2 383.9" stroke="#1e1e1e" stroke-width="0.95" fill="none" stroke-linejoin="round" />
<path d="M334 383.9 L334.35 383.89 L334.69 383.85 L335.04 383.7 L335.38 383.29 L335.73 382.3 L336.08 380.39 L336.42 377.44 L336.77 373.92 L337.12 370.98 L337.46 369.88 L337.81 371.13 L338.15 374.15 L338.5 372.51 L338.85 364.91 L339.19 356.33 L339.54 349.06 L339.88 345.57 L340.23 347.19 L340.58 353.29 L340.92 361.68 L341.27 361.53 L341.62 349.63 L341.96 337.45 L342.31 328.17 L342.65 324.74 L343 328.32 L343.35 337.7 L343.69 349.91 L344.04 361.77 L344.38 371.15 L344.73 367.52 L345.08 360.38 L345.42 354.78 L345.77 352.8 L346.12 355.25 L346.46 361.14 L346.81 368.3 L347.15 369.49 L347.5 364.12 L347.85 361.13 L348.19 361.92 L348.54 366.1 L348.88 371.82 L349.23 377.02 L349.58 380.62 L349.92 382.59 L350.27 383.46 L350.62 383.78 L350.96 383.87 L351.31 383.9 L352 383.9" stroke="#333" stroke-width="0.7" fill="none" stroke-linejoin="round" />
<path d="M330 383.9 L331.03 383.9 L331.38 383.87 L331.72 383.74 L332.07 383.2 L332.41 381.48 L332.76 377.29 L333.1 369.51 L333.45 359 L333.79 349.66 L334.14 346.45 L334.48 351.34 L334.83 361.39 L335.17 371.53 L335.52 378.5 L335.86 382.02 L336.21 383.38 L336.55 383.79 L336.9 383.88 L338.28 383.88 L338.62 383.68 L338.97 382.39 L339.31 377.35 L339.66 366.28 L340 354.45 L340.34 353.31 L340.69 364.15 L341.03 375.98 L341.38 381.92 L341.72 382.01 L342.07 375.26 L342.41 359.31 L342.76 340.38 L343.1 336.04 L343.45 351.18 L343.79 370 L344.14 380.23 L344.48 383.3 L344.83 382.37 L345.17 377.83 L345.52 368.9 L345.86 360.89 L346.21 361.96 L346.55 370.9 L346.9 379.11 L347.24 382.8 L347.59 383.74 L347.93 383.89 L350 383.9" stroke="#555" stroke-width="0.75" fill="none" stroke-linejoin="round" />
<path d="M332 383.9 L332.33 383.9 L332.67 383.8 L333 382.99 L333.33 378.91 L333.67 368.1 L334 355 L334.33 353.37 L334.67 365.27 L335 377.33 L335.33 382.56 L335.67 383.74 L336 383.9 L337 383.9" stroke="#1e1e1e" stroke-width="0.6" fill="none" stroke-linejoin="round" />
<path d="M309 383.9 L310.04 383.9 L310.39 383.84 L310.74 383.59 L311.09 382.66 L311.43 379.92 L311.78 373.77 L312.13 363.5 L312.48 351.37 L312.83 342.82 L313.17 342.82 L313.52 351.37 L313.87 363.5 L314.22 373.77 L314.57 379.92 L314.91 382.66 L315.26 383.59 L315.61 383.84 L315.96 383.9 L317 383.9" stroke="#555" stroke-width="0.9" fill="none" stroke-linejoin="round" />
<path d="M361 383.9 L361.7 383.9 L362.04 383.85 L362.39 383.64 L362.74 382.79 L363.09 380.23 L363.43 374.25 L363.78 363.83 L364.13 350.84 L364.48 340.79 L364.83 339.39 L365.17 347.5 L365.52 360.33 L365.87 371.82 L366.22 378.99 L366.57 382.32 L366.91 383.5 L367.26 383.82 L367.61 383.9 L369 383.9" stroke="#555" stroke-width="0.9" fill="none" stroke-linejoin="round" />
<path d="M358.8 383.9 L363 373 L367.2 383.9" stroke="#1e1e1e" stroke-width="0.75" fill="none" stroke-linejoin="round" />
<path d="M360.8 383.9 L363.4 376 L366 383.9" stroke="#555" stroke-width="0.6" fill="none" stroke-linejoin="round" />
<path d="M290.6 312 L397.2 312 L397.2 384.6" stroke="#555" stroke-width="0.9" fill="none"/>
<path d="M290.6 311.6 L290.6 384.6 L397.6 384.6" stroke="#333" stroke-width="1.1" fill="none"/>
<line x1="298.5" y1="384.6" x2="298.5" y2="388.2" stroke="#222" stroke-width="1.2" />
<line x1="305.98" y1="384.6" x2="305.98" y2="386.6" stroke="#222" stroke-width="1.0" />
<line x1="313.47" y1="384.6" x2="313.47" y2="386.6" stroke="#222" stroke-width="1.0" />
<line x1="320.95" y1="384.6" x2="320.95" y2="386.6" stroke="#222" stroke-width="1.0" />
<line x1="328.43" y1="384.6" x2="328.43" y2="386.6" stroke="#222" stroke-width="1.0" />
<line x1="335.92" y1="384.6" x2="335.92" y2="386.6" stroke="#222" stroke-width="1.0" />
<line x1="343.4" y1="384.6" x2="343.4" y2="386.6" stroke="#222" stroke-width="1.0" />
<line x1="350.88" y1="384.6" x2="350.88" y2="386.6" stroke="#222" stroke-width="1.0" />
<line x1="358.37" y1="384.6" x2="358.37" y2="386.6" stroke="#222" stroke-width="1.0" />
<line x1="365.85" y1="384.6" x2="365.85" y2="386.6" stroke="#222" stroke-width="1.0" />
<line x1="373.33" y1="384.6" x2="373.33" y2="386.6" stroke="#222" stroke-width="1.0" />
<line x1="380.82" y1="384.6" x2="380.82" y2="386.6" stroke="#222" stroke-width="1.0" />
<line x1="388.3" y1="384.6" x2="388.3" y2="388.2" stroke="#222" stroke-width="1.2" />
<text x="298.8" y="395.7" font-size="7.8" text-anchor="middle" fill="#1a1a1a" font-weight="normal" stroke="#1a1a1a" stroke-width="0.18" >133</text>
<text x="388.3" y="395.7" font-size="7.8" text-anchor="middle" fill="#1a1a1a" font-weight="normal" stroke="#1a1a1a" stroke-width="0.18" >169</text>
<text x="327.9" y="308.6" font-size="8.0" fill="#1a1a1a" stroke="#1a1a1a" stroke-width="0.15"><tspan letter-spacing="-0.55">CD127</tspan><tspan dx="1.73" dy="-3.57" font-size="5.78" font-weight="bold">+</tspan></text>
<text transform="translate(286,348) rotate(-90)" font-size="8.4" text-anchor="middle" fill="#2a2a2a">Vλ-Jλ</text>
<path d="M411.8 383.9 L449.93 383.89 L450.28 383.81 L450.63 383.43 L450.98 382.78 L451.33 382.67 L451.68 383.27 L452.03 383.57 L452.38 382.69 L452.73 381.83 L453.08 382.26 L453.43 383.29 L453.78 383.8 L454.13 383.89 L455.88 383.9 L456.23 383.83 L456.58 383.31 L456.93 380.96 L457.28 374.95 L457.63 367.17 L457.98 364.73 L458.33 370.45 L458.68 378.11 L459.03 370.27 L459.38 363.23 L459.73 364.69 L460.08 372.95 L460.43 380.08 L460.78 383.08 L461.13 383.79 L461.48 383.89 L461.83 383.88 L462.18 383.73 L462.53 382.9 L462.88 379.62 L463.23 370.83 L463.58 355.46 L463.93 339.87 L464.27 335.38 L464.62 345.84 L464.97 358.55 L465.32 338.07 L465.67 323.65 L466.02 326.29 L466.37 343.83 L466.72 363.63 L467.07 351.28 L467.42 345.04 L467.77 353 L468.12 356.68 L468.47 353.27 L468.82 360.9 L469.17 367.32 L469.52 360.29 L469.87 363.29 L470.22 372.25 L470.57 366.09 L470.92 367.22 L471.27 374.33 L471.62 380.53 L471.97 383.17 L472.32 382.58 L472.67 381.34 L473.02 381.58 L473.37 382.92 L473.72 383.71 L474.07 383.88 L516.4 383.9" stroke="#1e1e1e" stroke-width="0.95" fill="none" stroke-linejoin="round" />
<path d="M429 383.9 L430.04 383.9 L430.39 383.87 L430.74 383.69 L431.09 382.89 L431.43 380.17 L431.78 373.27 L432.13 360.59 L432.48 344.56 L432.83 332.8 L433.17 332.8 L433.52 344.56 L433.87 360.59 L434.22 373.27 L434.57 380.17 L434.91 382.89 L435.26 383.69 L435.61 383.87 L435.96 383.9 L437 383.9" stroke="#555" stroke-width="0.9" fill="none" stroke-linejoin="round" />
<path d="M457 383.9 L458.04 383.9 L458.39 383.83 L458.74 383.49 L459.09 382.05 L459.43 377.57 L459.78 367.5 L460.13 351.74 L460.48 336.13 L460.83 330.14 L461.17 338.08 L461.52 354.31 L461.87 369.43 L462.22 378.54 L462.57 382.4 L462.91 383.58 L463.26 383.85 L463.61 383.9 L465 383.9" stroke="#555" stroke-width="0.9" fill="none" stroke-linejoin="round" />
<path d="M482 383.9 L483.04 383.9 L483.39 383.78 L483.74 383.24 L484.09 381.13 L484.43 375.17 L484.78 363.04 L485.13 346.14 L485.48 332.11 L485.83 330.09 L486.17 341.55 L486.52 358.66 L486.87 372.5 L487.22 380 L487.57 382.89 L487.91 383.7 L488.26 383.87 L488.61 383.9 L490 383.9" stroke="#555" stroke-width="0.9" fill="none" stroke-linejoin="round" />
<path d="M477 383.9 L477.34 383.89 L477.69 383.88 L478.03 383.84 L478.38 383.78 L478.72 383.65 L479.07 383.44 L479.41 383.08 L479.76 382.57 L480.1 381.86 L480.45 381.01 L480.79 380.07 L481.14 379.16 L481.48 378.45 L481.83 378.05 L482.17 378.05 L482.52 378.45 L482.86 379.16 L483.21 380.07 L483.55 381.01 L483.9 381.86 L484.24 382.57 L484.59 383.08 L484.93 383.44 L485.28 383.65 L485.62 383.78 L485.97 383.84 L486.31 383.88 L486.66 383.89 L487 383.9" stroke="#1e1e1e" stroke-width="0.85" fill="none" stroke-linejoin="round" />
<path d="M478 383.9 L479.04 383.89 L479.39 383.88 L479.74 383.83 L480.09 383.71 L480.43 383.44 L480.78 382.96 L481.13 382.22 L481.48 381.33 L481.83 380.5 L482.17 380.04 L482.52 380.12 L482.87 380.71 L483.22 381.58 L483.57 382.45 L483.91 383.12 L484.26 383.54 L484.61 383.75 L484.96 383.85 L485.3 383.89 L486 383.9" stroke="#555" stroke-width="0.6" fill="none" stroke-linejoin="round" />
<path d="M459 383.75 L459.35 383.66 L459.7 383.53 L460.05 383.33 L460.4 383.06 L460.74 382.68 L461.09 382.17 L461.44 381.51 L461.79 380.67 L462.14 379.63 L462.49 378.38 L462.84 376.93 L463.19 375.3 L463.53 373.53 L463.88 371.67 L464.23 369.82 L464.58 368.05 L464.93 366.47 L465.28 365.16 L465.63 364.22 L465.98 363.7 L466.33 363.63 L466.67 364.03 L467.02 364.86 L467.37 366.07 L467.72 367.59 L468.07 369.31 L468.42 371.15 L468.77 373.01 L469.12 374.81 L469.47 376.49 L469.81 377.99 L470.16 379.3 L470.51 380.4 L470.86 381.29 L471.21 382.01 L471.56 382.55 L471.91 382.97 L472.26 383.27 L472.6 383.48 L472.95 383.63 L473.3 383.73 L473.65 383.79 L474 383.84" stroke="#555" stroke-width="0.65" fill="none" stroke-linejoin="round" />
<path d="M410.8 312 L517.4 312 L517.4 384.6" stroke="#555" stroke-width="0.9" fill="none"/>
<path d="M410.8 311.6 L410.8 384.6 L517.8 384.6" stroke="#333" stroke-width="1.1" fill="none"/>
<line x1="418.1" y1="384.6" x2="418.1" y2="388.2" stroke="#222" stroke-width="1.2" />
<line x1="425.66" y1="384.6" x2="425.66" y2="386.6" stroke="#222" stroke-width="1.0" />
<line x1="433.22" y1="384.6" x2="433.22" y2="386.6" stroke="#222" stroke-width="1.0" />
<line x1="440.78" y1="384.6" x2="440.78" y2="386.6" stroke="#222" stroke-width="1.0" />
<line x1="448.33" y1="384.6" x2="448.33" y2="386.6" stroke="#222" stroke-width="1.0" />
<line x1="455.89" y1="384.6" x2="455.89" y2="386.6" stroke="#222" stroke-width="1.0" />
<line x1="463.45" y1="384.6" x2="463.45" y2="386.6" stroke="#222" stroke-width="1.0" />
<line x1="471.01" y1="384.6" x2="471.01" y2="386.6" stroke="#222" stroke-width="1.0" />
<line x1="478.57" y1="384.6" x2="478.57" y2="386.6" stroke="#222" stroke-width="1.0" />
<line x1="486.12" y1="384.6" x2="486.12" y2="386.6" stroke="#222" stroke-width="1.0" />
<line x1="493.68" y1="384.6" x2="493.68" y2="386.6" stroke="#222" stroke-width="1.0" />
<line x1="501.24" y1="384.6" x2="501.24" y2="386.6" stroke="#222" stroke-width="1.0" />
<line x1="508.8" y1="384.6" x2="508.8" y2="388.2" stroke="#222" stroke-width="1.2" />
<text x="418.4" y="395.7" font-size="7.8" text-anchor="middle" fill="#1a1a1a" font-weight="normal" stroke="#1a1a1a" stroke-width="0.18" >133</text>
<text x="508.8" y="395.7" font-size="7.8" text-anchor="middle" fill="#1a1a1a" font-weight="normal" stroke="#1a1a1a" stroke-width="0.18" >169</text>
<text x="448.5" y="308.6" font-size="8.0" fill="#1a1a1a" stroke="#1a1a1a" stroke-width="0.15"><tspan letter-spacing="-0.55">CD127</tspan><tspan dx="0.96" dy="-2.89" font-size="4.82" font-weight="bold">-</tspan></text>
<text x="403.9" y="405.8" font-size="7.5" text-anchor="middle" fill="#222" font-weight="normal" stroke="#222" stroke-width="0.18" >fragment size (3nt spacing)</text>
</svg>
</body>
</html>
